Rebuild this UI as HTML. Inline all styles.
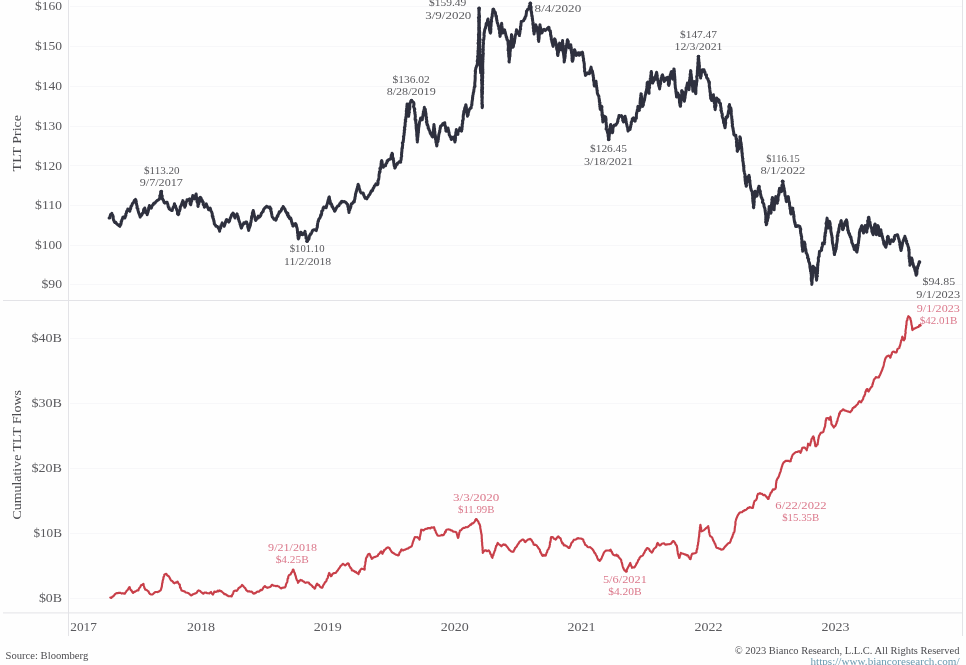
<!DOCTYPE html>
<html lang="en"><head><meta charset="utf-8"><title>TLT Price and Cumulative TLT Flows</title>
<style>html,body{margin:0;padding:0;background:#fefefe;overflow:hidden}svg{display:block}text{font-family:"Liberation Serif", serif}</style></head><body>
<svg width="966" height="665" viewBox="0 0 966 665">
<rect width="966" height="665" fill="#fefefe"/>
<g stroke="#f7f7f9" stroke-width="1" shape-rendering="crispEdges">
<line x1="70" x2="962" y1="6.5" y2="6.5"/>
<line x1="70" x2="962" y1="46.5" y2="46.5"/>
<line x1="70" x2="962" y1="86.5" y2="86.5"/>
<line x1="70" x2="962" y1="126.5" y2="126.5"/>
<line x1="70" x2="962" y1="165.5" y2="165.5"/>
<line x1="70" x2="962" y1="205.5" y2="205.5"/>
<line x1="70" x2="962" y1="245.5" y2="245.5"/>
<line x1="70" x2="962" y1="284.5" y2="284.5"/>
<line x1="70" x2="962" y1="338.5" y2="338.5"/>
<line x1="70" x2="962" y1="403.5" y2="403.5"/>
<line x1="70" x2="962" y1="468.5" y2="468.5"/>
<line x1="70" x2="962" y1="533.5" y2="533.5"/>
<line x1="70" x2="962" y1="598.5" y2="598.5"/>
</g>
<g stroke="#e3e3e7" stroke-width="1" shape-rendering="crispEdges">
<line x1="68.5" x2="68.5" y1="0" y2="636"/>
<line x1="962.5" x2="962.5" y1="0" y2="636"/>
<line x1="3" x2="963" y1="300.5" y2="300.5"/>
</g>
<line x1="3" x2="963" y1="612.9" y2="612.9" stroke="#e3e3e7" stroke-width="1"/>
<g font-size="12" fill="#5a5a5e" text-anchor="end">
<text x="62" y="10" textLength="27" lengthAdjust="spacingAndGlyphs">$160</text>
<text x="62" y="50" textLength="27" lengthAdjust="spacingAndGlyphs">$150</text>
<text x="62" y="90" textLength="27" lengthAdjust="spacingAndGlyphs">$140</text>
<text x="62" y="130" textLength="27" lengthAdjust="spacingAndGlyphs">$130</text>
<text x="62" y="169.5" textLength="27" lengthAdjust="spacingAndGlyphs">$120</text>
<text x="62" y="209" textLength="27" lengthAdjust="spacingAndGlyphs">$110</text>
<text x="62" y="249" textLength="27" lengthAdjust="spacingAndGlyphs">$100</text>
<text x="62" y="288" textLength="20.5" lengthAdjust="spacingAndGlyphs">$90</text>
<text x="62" y="342" textLength="30.6" lengthAdjust="spacingAndGlyphs">$40B</text>
<text x="62" y="407" textLength="30.6" lengthAdjust="spacingAndGlyphs">$30B</text>
<text x="62" y="472" textLength="30.6" lengthAdjust="spacingAndGlyphs">$20B</text>
<text x="62" y="537" textLength="28.6" lengthAdjust="spacingAndGlyphs">$10B</text>
<text x="62" y="602" textLength="23.1" lengthAdjust="spacingAndGlyphs">$0B</text>
</g>
<g font-size="12" fill="#5a5a5e" text-anchor="middle">
<text x="83.6" y="631" textLength="26.6" lengthAdjust="spacingAndGlyphs">2017</text>
<text x="200.9" y="631" textLength="28" lengthAdjust="spacingAndGlyphs">2018</text>
<text x="327.8" y="631" textLength="28" lengthAdjust="spacingAndGlyphs">2019</text>
<text x="454.7" y="631" textLength="28" lengthAdjust="spacingAndGlyphs">2020</text>
<text x="581.6" y="631" textLength="28" lengthAdjust="spacingAndGlyphs">2021</text>
<text x="708.5" y="631" textLength="28" lengthAdjust="spacingAndGlyphs">2022</text>
<text x="835.4" y="631" textLength="28" lengthAdjust="spacingAndGlyphs">2023</text>
</g>
<g font-size="13" fill="#4c4c50" text-anchor="middle">
<text transform="translate(20.5,143.2) rotate(-90)" textLength="56.4" lengthAdjust="spacingAndGlyphs">TLT Price</text>
<text transform="translate(21.3,454.8) rotate(-90)" textLength="129.2" lengthAdjust="spacingAndGlyphs">Cumulative TLT Flows</text>
</g>
<text x="5.5" y="659" font-size="10.5" fill="#4c4c50" textLength="82.7" lengthAdjust="spacingAndGlyphs">Source: Bloomberg</text>
<text x="959.5" y="653.5" font-size="10.5" fill="#4c4c50" text-anchor="end" textLength="224.8" lengthAdjust="spacingAndGlyphs">© 2023 Bianco Research, L.L.C. All Rights Reserved</text>
<text x="959.5" y="664.5" font-size="10.5" fill="#6a9ab0" text-anchor="end" textLength="149" lengthAdjust="spacingAndGlyphs">https://www.biancoresearch.com/</text>
<path d="M109.1,218 L109.81,217.93 L109.91,216.47 L110.51,215.05 L110.73,214.3 L111.46,214.19 L111.9,213.3 L111.99,214.49 L112.38,215.08 L112.72,215.14 L113.27,217.03 L113.1,217.86 L113.4,219.31 L113.55,220.02 L114.02,220.53 L114.1,221.3 L114.95,222.52 L115.84,222.37 L116.6,223.8 L117.54,224.47 L118.43,225.17 L119.11,225.65 L119.9,226.3 L120.02,225.75 L120.42,224.24 L120.78,224.63 L121.2,222.98 L121.14,221.55 L121.63,221.31 L121.78,220.25 L122.51,218.7 L122.39,218.81 L122.9,217.1 L123.84,216.82 L124.8,218 L125.13,217.49 L125.24,216.35 L125.88,215.59 L125.76,214.12 L126.43,213.03 L126.58,211.59 L126.88,211.08 L127.2,210.59 L127.57,210.64 L127.8,208.9 L128.44,210.43 L129.2,210.24 L129.8,211.3 L130.11,208.82 L130.22,209.54 L130.65,208.78 L131.01,206.25 L131.28,206.14 L131.88,205.67 L131.98,204.88 L132.3,203.9 L132.55,203.36 L133.22,203.08 L133.76,201.89 L134.43,200.36 L135.17,201.19 L135.6,199.4 L135.75,200 L135.99,200.64 L136.32,201.89 L136.34,202.4 L136.48,203.62 L136.82,205.41 L137.2,206.28 L136.97,207.52 L137.11,208.12 L137.92,208.73 L137.8,209.7 L138.04,210.52 L138.4,211.64 L138.58,212.49 L139.15,213.99 L139.35,214.21 L139.77,215.61 L140.01,216.39 L140.2,217.1 L140.52,216.14 L141.37,215.19 L141.72,215.18 L142.25,213.51 L142.7,213 L143.32,212.91 L143.49,210.62 L143.71,209.2 L144.3,209.1 L144.7,208 L145.27,209.49 L145.63,210.37 L145.59,210.57 L146.57,212.1 L146.3,212.98 L147.08,213.88 L147.2,214.7 L147.55,213.21 L147.85,212.52 L147.91,212.37 L148.01,212.12 L148.61,209.72 L148.88,208.7 L148.57,208.24 L148.98,207.34 L149.15,206.53 L149.4,205.5 L149.65,206.93 L150.62,206.86 L151.3,208 L151.37,208.18 L151.91,206.17 L152.61,205.17 L153.14,204.95 L153.3,203.9 L154.09,202.95 L154.95,203.3 L155.74,201.84 L156.3,201.4 L157.35,200.27 L157.78,200.23 L158.69,199.67 L159.3,198.9 L159.53,198.93 L159.9,196.85 L159.77,195.65 L160.24,195.66 L160.38,194.89 L160.85,191.76 L161.31,192.51 L161.3,191.5 L161.51,192.71 L161.56,193.67 L161.56,194.32 L161.82,195.49 L162.23,195.88 L162.11,197.55 L162.34,199.08 L162.6,198.9 L163.22,200.2 L163.55,200.7 L164.13,202.41 L164.14,202.5 L164.9,203.1 L166.19,202.24 L167.1,202.2 L167.24,203.26 L167.65,203.76 L168.06,205.45 L168.17,206.58 L168.52,207.53 L169.19,207.78 L169.2,208.9 L169.98,209.47 L170.74,209.85 L171.6,210.5 L172.19,210.53 L172.36,209.24 L172.67,208.6 L173.12,207.45 L173.68,206.42 L173.99,206.52 L174.44,203.67 L174.5,203.9 L174.83,205.29 L175.49,205.89 L175.84,207.55 L176.11,207.98 L176.5,208.9 L176.78,210.32 L177,210.34 L177.45,211.72 L177.47,214.01 L177.98,214 L178.3,214.7 L178.79,213.94 L178.81,213.54 L178.88,211.63 L179.57,210.97 L179.75,209.94 L179.97,209.56 L180.15,208.84 L180.24,206.87 L180.7,206.4 L180.99,205.94 L181.54,204.3 L182.04,203.07 L182.01,202.9 L182.63,201.22 L182.8,200.6 L182.98,200.89 L183.4,202.49 L183.72,203.44 L183.92,204.17 L184.34,206.01 L184.8,206.01 L184.8,207.2 L185.09,205.18 L185.51,205.72 L185.56,204.49 L185.87,203.82 L185.7,202.84 L186.32,201.86 L186.85,201.24 L187,199.8 L188.13,199.75 L189.4,198.9 L189.58,200.11 L189.84,200.95 L190.43,201.32 L189.99,203.16 L190.34,204.22 L190.8,204.7 L190.9,203.66 L191.24,202.59 L191.16,201.79 L191.66,201.06 L191.73,201.12 L191.94,198.59 L192.05,198.69 L192.49,197.02 L192.64,196.5 L192.8,195.6 L193.06,196.08 L193.57,197.07 L194.07,197.89 L194.4,198.9 L194.83,198.22 L194.93,197.2 L195.55,195.34 L195.78,194.99 L196.1,194 L196.22,194.32 L196.27,195.56 L196.31,196.52 L196.91,197.86 L196.88,198.38 L197.13,199.12 L196.97,201.7 L197.57,201.51 L197.5,202.79 L197.61,202.41 L198.03,205 L197.85,205.8 L198.1,206.4 L198.01,205.11 L198.71,203.99 L198.51,203.61 L198.66,203.49 L199.1,202.54 L199.47,201.13 L199.78,200.17 L199.73,199.13 L199.75,197.85 L200.2,197.3 L200.91,197.74 L201.53,199.4 L201.97,201.28 L202.4,200.6 L202.45,201.82 L203.31,202.35 L203.19,203.72 L203.17,204.54 L203.54,204.86 L204.16,205.08 L204.3,207.2 L204.77,206.91 L205.13,205.74 L205.93,204.97 L206.3,203.9 L206.92,205.71 L207.01,206.1 L207.3,206.35 L207.86,208.11 L208.41,208.74 L208.5,209.7 L209.3,209.21 L210.1,208 L210.43,208.85 L210.57,209.39 L210.95,211.06 L211.56,211.68 L211.89,212.68 L212.24,213.74 L212.3,214.7 L212.23,215.87 L212.71,217.2 L212.99,216.35 L212.98,218.43 L213.5,218.92 L213.82,220.94 L214.04,221.75 L213.96,220.62 L214.3,222.9 L214.26,223.85 L215.25,225.02 L215.44,225.02 L215.9,226.3 L216.9,226.18 L217.9,227.1 L218.32,228.1 L218.81,228.59 L219.33,229.99 L219.6,231.2 L219.64,230.45 L220.19,228.56 L220.54,228.17 L220.76,227.95 L220.85,225.66 L221.16,225.98 L221.61,225.35 L221.77,224.11 L222.2,222.9 L222.21,223.7 L223.29,224.49 L223.56,224.96 L224.2,226.3 L224.57,225.31 L225.03,223.94 L225.46,222.52 L225.49,221.7 L225.82,222.25 L226.36,219.65 L226.7,219.6 L227.25,219.93 L228.04,220.88 L228.9,222.1 L229.11,220.56 L229.55,220.99 L229.81,219.63 L230.21,218.4 L230.8,217.1 L231.34,216.03 L231.36,215.17 L232.09,214.34 L232.4,214.14 L233,213 L233.41,213.84 L233.78,214.09 L234.27,215.54 L234.57,216.94 L235,218 L235.4,215.83 L235.68,216.12 L236.05,215.2 L236.79,214.74 L237.1,213.8 L237.26,215.07 L237.74,216.6 L237.83,216.09 L238.08,216.65 L238.56,218.88 L238.3,219.19 L239.07,220.27 L239.1,221.3 L239.67,222.32 L240.07,223.64 L240.06,224.46 L240.95,225.32 L240.58,225.73 L241.31,228.11 L241.6,227.9 L241.87,226.72 L242.45,225.39 L242.6,225.48 L243,224.33 L243.4,224.32 L243.8,222.9 L244.6,223.39 L245.59,222.03 L246.6,222.1 L246.82,222.73 L247.27,224.51 L247.51,224.28 L247.8,225.84 L247.63,226.62 L248.1,228.07 L248.24,228.3 L248.52,229.55 L248.7,230.4 L248.74,228.55 L249.22,228.61 L249.13,227.38 L249.61,227.5 L250.16,225.27 L250.31,225.56 L250.47,224.49 L250.63,222.58 L250.96,222.41 L251.1,221.3 L251.11,220.66 L251.4,219.17 L251.48,218.49 L251.6,216.7 L251.97,216.97 L251.84,216.22 L252.47,214.77 L252.32,213.02 L252.87,212.28 L252.76,212.32 L253.01,211.48 L253.2,210.5 L253.62,211.91 L253.71,212.82 L254.02,213.65 L253.81,214.78 L254.35,215.24 L254.52,216.04 L254.87,216.82 L255.04,217.88 L255.04,218.09 L255.18,219.18 L255.7,220.5 L256.39,219.38 L257.05,217.85 L258.2,218 L258.15,216.79 L258.3,216.1 L259.69,216.9 L260.8,215.3 L261.13,214.04 L261.5,213.08 L262.04,212.61 L262.6,211.62 L263.21,211.49 L263.3,210.3 L264.07,208.76 L264.36,208.45 L265.01,207.67 L266.39,207.01 L266.6,206.2 L268,207.18 L268.54,207.39 L269.9,207 L270.15,208.14 L270.18,209.06 L270.93,208.64 L270.86,211.29 L271.07,211.28 L271.42,211.77 L271.47,213.45 L271.71,214.04 L271.88,215.25 L272.21,216.62 L272.4,217 L272.92,217.61 L273.93,218.99 L274.08,219.36 L275.2,219.45 L275.7,220.3 L276.27,219.49 L276.55,218.4 L276.37,218.1 L277.09,216.76 L277.34,215.81 L277.82,216.2 L278.2,214.5 L278.58,214.11 L279.32,211.71 L279.88,212.25 L280.6,211.2 L281.23,210.55 L281.59,209.07 L282.28,207.97 L282.68,208.41 L283.1,206.5 L283.48,207.16 L284.25,208.23 L284.84,208.9 L285.1,209.59 L285.6,211.2 L286.44,212.74 L286.83,212.61 L287.44,215.04 L287.85,213.26 L288.16,216.59 L288.9,216.1 L289.06,217.44 L289.76,218.65 L290.55,219.06 L290.66,217.93 L291.4,220.3 L291.43,221.45 L291.81,222.22 L292.17,223.94 L292.64,223.66 L292.79,225.81 L293.1,226.1 L293.98,225.42 L294.5,224.16 L295.5,223.6 L295.78,224.89 L296.32,224.85 L296.54,226.84 L296.82,227.19 L297.2,228.6 L297.39,229.87 L297.27,230.02 L297.56,231.6 L297.45,232.81 L298.04,233.79 L297.88,234.74 L297.75,235.65 L298.41,235.85 L297.99,236.13 L298.18,238.42 L298.4,238.9 L298.52,237.63 L298.9,237.91 L299,235.88 L299.6,235.49 L300.16,234.39 L300,233.24 L300.5,232.2 L301.25,232.48 L301.77,234.59 L302.7,234.7 L303.25,233.74 L303.7,233.41 L304.55,232.4 L305,231.4 L305.17,232.28 L305.48,233.54 L305.39,234.79 L305.73,235.68 L305.86,235.27 L306.11,236.12 L305.97,238.27 L306.65,237.95 L306.85,239.33 L306.9,239.67 L307.1,241.3 L307.56,239.07 L308.3,239.7 L308.87,239.14 L309.02,238.66 L309.34,236.32 L309.99,234.78 L309.98,235.51 L310.5,233.9 L310.94,234.09 L311.69,232.57 L312.55,230.48 L313.34,229.98 L313.8,229.8 L315.07,229.71 L316.3,230.6 L316.52,229.4 L316.84,228.39 L316.91,228.14 L317.43,226.8 L317.23,225.55 L317.5,225.42 L317.68,223.17 L317.74,222.92 L317.91,222.31 L318.11,221.13 L318.45,221.19 L318.7,219.4 L319.25,218.82 L319.68,218.15 L320.22,217.35 L320.75,214.77 L321.2,215.3 L321.63,213.67 L321.69,213.58 L321.68,211.15 L322.25,210.96 L322.92,209.93 L322.85,210.02 L323.09,208.3 L323.35,207.79 L323.7,207 L325.08,207.36 L326.2,207.8 L326.47,205.94 L326.44,206.62 L326.84,205.02 L327.29,203.6 L327.56,203.16 L327.55,202.68 L327.77,201.72 L328.3,199.76 L328.49,199.98 L328.71,197.89 L328.76,198.44 L329,197.1 L329.29,196.86 L329.52,198.58 L329.68,199.91 L330.1,200.73 L330.36,202.53 L330.45,203.94 L331.13,203.5 L331.2,204.5 L331.71,204.47 L331.93,206.39 L332.69,206.88 L332.9,207.6 L333.46,208.93 L333.43,208.39 L334.04,209.62 L334.5,211.2 L335.14,210.7 L335.75,209.36 L336.11,208.64 L336.64,207.42 L337,207 L337.99,205.77 L338.91,205.81 L339.4,204.5 L339.83,203.44 L340.7,203.31 L341.05,201.73 L341.9,201.2 L342.68,201.91 L344.28,201.48 L345.2,202 L346.11,202.69 L346.96,203.94 L347.7,204.5 L347.95,205.97 L347.79,206.07 L348.02,207.01 L348.48,208.28 L348.31,209.37 L348.57,209.94 L348.93,210.46 L348.92,211.95 L349,212.5 L348.81,210.95 L349.67,210.34 L349.72,209.74 L350.04,208.84 L350.48,208.1 L350.4,207.15 L350.8,207.12 L351.01,205.84 L351.21,204.56 L351.4,203.7 L352.38,203.43 L353.56,201.53 L354.3,202 L354.38,200.83 L354.52,199.99 L354.8,198.79 L354.93,198.85 L354.93,197.71 L355.13,196.96 L355.37,196.01 L355.45,194.39 L355.79,193.11 L356,192.9 L356.21,191.41 L356.35,191.61 L356.72,189.86 L356.97,188.74 L357.39,188.25 L357.43,186.77 L357.91,186.12 L357.98,184.7 L358.2,184.3 L358.56,185.59 L358.56,185.64 L358.91,185.88 L359.02,187.63 L359.56,189.1 L359.71,189.37 L360.02,190.63 L360.25,191.51 L360.6,192.1 L361.33,193.08 L362.6,192.9 L363.31,193.19 L363.7,195.24 L363.97,195.11 L364.42,196.98 L364.93,197.22 L365.1,198.2 L365.72,198.06 L366.79,198.82 L367.6,197.1 L368.11,196.97 L369,194.94 L369.35,195.08 L370.1,193.8 L370.35,193.11 L371.22,191.01 L371.64,190.68 L372.05,191.07 L372.52,190.49 L372.93,188.99 L373.4,188 L373.96,187.39 L374.39,185.8 L375.37,185.27 L375.27,185.31 L375.9,183.8 L376.41,184.58 L377.5,184.7 L377.97,183.79 L378.05,182.87 L378.08,181.68 L377.8,181.15 L378.65,179.56 L378.7,178.6 L378.66,179.07 L378.89,177.73 L379.1,175.91 L379,175.54 L379.11,174.12 L379.49,173.23 L379.36,171.94 L380.04,171.91 L380,170.6 L380.17,169.19 L379.87,168.41 L380.51,169.04 L380.83,166.19 L381.01,166.45 L381.01,165.55 L381.04,165.03 L381.06,163.46 L381.43,161.79 L381.28,161.64 L381.7,160.6 L382.1,161.76 L382.1,161.82 L382.25,164.41 L382.74,164.74 L382.87,165.48 L383.12,166.65 L383.3,167.3 L383.68,166.56 L384.42,165.78 L385.54,165.65 L385.8,164 L385.95,163.77 L386.82,162.87 L387.1,160.88 L387.69,161.22 L388.3,159.8 L389.41,159.36 L390.5,159 L390.33,158.55 L390.9,157.74 L391.4,155.88 L391.19,155.33 L391.81,154.5 L392.1,153.2 L392.16,153.56 L392.55,154.17 L392.48,156.79 L392.51,156.64 L392.74,157.44 L393.36,158.76 L393.4,160.25 L393.4,160.6 L393.73,161 L393.63,162.08 L393.95,163.82 L394.18,165.72 L394.46,165.12 L394.64,165.59 L394.69,168.02 L394.9,168.1 L395.5,166.98 L395.8,165.82 L396.2,165.31 L396.67,164.33 L397.27,164.24 L397.4,163.1 L398.57,162.63 L399.47,161.6 L400.7,162.3 L400.57,161.52 L400.75,160.39 L401.1,159.79 L401.21,158.35 L401.22,157.38 L401.39,157.05 L401.68,156.16 L401.47,154.56 L401.74,152.98 L401.6,152.45 L401.87,151.86 L401.85,151.06 L401.94,150.34 L401.94,149.36 L402,148.14 L402.45,147.99 L402.4,146.6 L402.57,146.02 L402.72,144.37 L402.33,142.9 L403.1,142.15 L403.23,141.98 L403.25,140.51 L403.36,140.83 L403.49,139.16 L403.72,137.8 L403.42,136.46 L403.53,136.16 L403.88,136.16 L404.16,133.85 L404,133.3 L404.05,133.13 L404.42,132.33 L404.25,130.28 L404.64,129.82 L404.81,129.6 L404.39,127.55 L405.04,125.98 L405.1,126.57 L405.03,125.08 L405.21,124.43 L405.09,123.3 L405.39,121.59 L405.71,121.34 L405.26,119.93 L405.7,119.6 L405.78,117.6 L405.81,118.68 L406.01,116.44 L406.21,116.75 L406.27,115.47 L406.21,113.9 L406.58,113.36 L406.27,111 L406.4,111.49 L406.48,110.29 L406.69,108.92 L406.63,109.23 L406.95,107.84 L406.84,106.31 L407.2,105.03 L406.98,105.77 L407.1,103.9 L407.36,105.95 L407.41,104.8 L407.53,106.9 L407.49,108.09 L407.73,109.29 L407.77,110.67 L408.22,109.2 L407.72,111.84 L408.01,112.15 L408.15,113.95 L408.29,115.03 L408.38,115.87 L408.6,116.3 L408.81,114.7 L408.91,114.29 L408.77,112.56 L409.38,112.34 L408.89,111.81 L409.59,108.91 L409.19,109.88 L409.66,109.3 L409.66,109 L409.88,106.6 L409.78,105.18 L409.88,104.44 L409.85,103.33 L410.2,103.1 L410.7,101.66 L411.05,101.45 L411.5,100.6 L412.62,101.66 L413.5,102.2 L413.95,103.36 L413.78,104.16 L414,104.63 L413.44,106.59 L413.86,107.15 L414.16,107.79 L414.03,107.81 L414.8,109.26 L414.41,109.62 L414.54,111.04 L415.03,112.72 L414.8,113 L414.97,113.93 L415.26,114.72 L415.21,115.82 L415.39,116.69 L415.16,117.71 L415.08,119.75 L415.44,119.75 L415.94,120.1 L415.63,121.74 L415.86,122.01 L415.86,123.45 L416.25,124.03 L416.07,125.47 L416.2,126.3 L416.14,126.53 L416.21,128.55 L416.38,129.43 L416.52,130.21 L416.48,130.68 L416.7,131.8 L416.8,134.09 L417.08,132.97 L416.67,134.55 L416.84,135.6 L416.91,136.6 L417.19,137.37 L417.06,139.24 L417.26,140.1 L417.21,140.81 L417.37,141.19 L417.3,142 L417.41,140.55 L417.65,139.53 L417.7,139.35 L417.57,138.12 L417.73,137.91 L417.91,136.34 L418.01,135.79 L417.93,134.04 L418.15,134.25 L418.15,132.63 L418.48,132.35 L418.22,130.62 L418.51,130.99 L418.62,128.43 L418.8,127.52 L418.7,126.92 L419,126.3 L419.04,125.75 L419.41,123.43 L419.35,123.23 L419.6,121.69 L419.81,121.36 L420.28,120.49 L420.3,120.43 L420.35,119.23 L420.6,118 L421.54,118 L422.3,119.6 L422.34,119.4 L422.49,117.31 L422.85,116.01 L423.14,115.19 L423.08,115.75 L423.08,113.85 L423.39,113.42 L423.38,111.15 L423.6,111.27 L423.88,110.3 L423.98,109.9 L424.33,108.74 L424.3,107.2 L424.57,108.95 L425.37,109.4 L425.18,110.17 L425.6,111.3 L425.51,112.33 L425.73,112.76 L426.07,114.04 L425.97,114.56 L426.05,116.28 L426.57,117.51 L426.16,117.47 L426.31,118.75 L426.57,119.7 L427.01,121.93 L426.36,121.89 L426.8,122.9 L427.1,124.72 L427.58,124.59 L427.66,125.71 L428.15,126.25 L428.16,128.15 L428.8,128.33 L428.9,129.6 L429.27,130.18 L429.74,131.14 L430.23,133.01 L430.76,134.07 L431.1,134.5 L431.63,134.22 L431.89,136.15 L432.7,137 L432.78,136.48 L432.97,134.81 L433.1,134.67 L433.06,132.9 L432.95,133.58 L433.26,131.32 L433.45,131.15 L433.39,129.49 L433.54,129.1 L433.65,127.41 L433.72,126.89 L433.94,125.7 L433.9,124.6 L433.97,125.1 L434.23,126.44 L434.15,127.61 L434.27,127.63 L434.59,128.82 L434.57,130.35 L434.45,130.31 L434.87,131.87 L434.84,132.91 L434.67,133.91 L435.1,134.5 L435.47,136.02 L435.39,136.38 L435.62,137.06 L435.5,137.57 L435.48,139.18 L435.91,140.12 L435.88,140.74 L436,142.6 L436.34,142.62 L436.5,143.42 L436.5,144.32 L436.69,145.2 L436.7,146.1 L437.04,144.82 L436.91,144.82 L437.05,142.51 L437.57,141.97 L437.95,141.52 L437.58,141.43 L437.97,139.43 L438.34,139.61 L438.4,137.8 L438.44,137.35 L438.57,137 L438.77,134.94 L439.14,133.47 L439.39,132.52 L439.46,132.34 L439.81,131.44 L439.61,130.73 L440.12,129.53 L440.09,128.01 L440.43,127.92 L440.5,126.3 L441.47,125.54 L442.25,125.15 L442.7,123.8 L443.86,123.14 L444.7,122.9 L444.77,122.73 L444.9,125.66 L445.18,125.58 L445.6,126.85 L445.56,128.39 L445.91,128.62 L445.9,129.99 L445.89,131.02 L446.3,131.2 L446.5,130.53 L447.02,129.3 L447.85,129.7 L448,127.9 L448.21,129.27 L448.09,128.71 L448.68,130.83 L448.62,131.95 L449.02,132.19 L449.23,134.81 L449.3,134.5 L449.68,135.48 L450.15,136.74 L450.75,136.71 L450.99,138.75 L451.3,139.5 L452.15,138.42 L452.51,138.39 L453.3,137 L453.5,138.56 L454.08,137.99 L454.17,139.45 L454.57,140.49 L454.9,142 L455.03,140.85 L455.38,140.35 L455.31,139.39 L455.46,138.45 L455.49,137.73 L455.39,135.64 L455.6,135.48 L455.68,134.14 L456.05,133.02 L455.77,132.89 L456.08,131.61 L456.37,130.3 L456.3,129.6 L456.63,130.76 L457.1,131.09 L457.31,132.68 L457.83,133.14 L457.9,134.5 L457.96,131.86 L458.26,131.7 L458.67,131.11 L459.08,130.55 L459.42,130.53 L459.59,128.91 L459.9,127.9 L460.46,128.93 L461.04,129.15 L461.32,130.37 L461.6,131.2 L461.74,128.94 L462.03,129.16 L461.97,129.03 L461.97,127.91 L462.31,126.15 L462.14,125.08 L462.18,124.19 L462.58,123.69 L462.67,122.48 L462.51,121.08 L462.86,120.71 L462.48,121.01 L463.23,119.41 L463.34,118.47 L463.22,118.19 L463.17,115.87 L463.24,116.58 L463.42,114.23 L463.61,114.61 L463.7,113 L463.84,111.24 L464.38,111.53 L464.52,111.07 L464.52,109.57 L464.7,108.08 L465.23,107.39 L465.26,106.57 L465.81,105.94 L465.9,104.7 L465.67,106.27 L465.97,105.16 L466.44,107.67 L466.4,108.67 L466.47,109.3 L466.48,109.68 L466.72,112.69 L466.97,112.14 L467,113.22 L467.46,114.14 L467.16,114.17 L467.32,114.86 L467.5,116.3 L467.8,114.68 L468.19,114.78 L468.17,114.18 L468.34,112.63 L468.73,111.62 L468.95,110.92 L469.2,109.7 L470.36,108.27 L471.2,108 L471.1,107.03 L471.56,105.28 L471.68,104.35 L471.78,105.26 L471.91,103.98 L471.97,102.32 L472.16,100.73 L472.21,101.21 L472.28,100.56 L472.66,98.14 L472.45,98.24 L472.62,97.01 L472.8,96.4 L472.75,95.62 L473.05,94.68 L473.21,94.08 L473.27,93.18 L473.52,92.13 L473.78,91.63 L473.8,90.71 L474.03,88.93 L474.14,87.81 L474.16,88.17 L474.51,86.28 L475,86.58 L474.8,84.8 L474.77,83.55 L474.79,83.04 L475.05,80.87 L475.05,81.2 L475.08,80.35 L475.2,78.76 L475.18,78.13 L475.21,76.6 L475.11,76.22 L475.23,74.88 L475.25,74.36 L475.41,72.8 L475.5,71.79 L475.47,71.03 L475.19,71.16 L475.6,69.6 L475.86,67.87 L476.14,67.52 L476.52,66.09 L476.98,65.05 L477.3,64.6 L477.33,63.3 L477.53,62.78 L477.41,61.49 L477.19,61.14 L477.46,60.02 L477.61,59.54 L477.9,57.67 L477.65,56.92 L477.54,56.55 L478.03,55.28 L478.13,53.77 L477.94,53.37 L478.32,51.7 L478.1,52.41 L477.91,50.96 L478.34,49.88 L478.23,48.51 L478.4,48 L478.28,46.99 L478.55,45.28 L478.54,45.76 L478.63,44.78 L478,43.31 L478.4,42.59 L478.59,41.05 L478.33,40.23 L478.48,41.17 L478.65,39.06 L478.56,38.39 L478.57,37.45 L478.56,36.02 L478.73,35.7 L478.39,34.7 L478.74,33.44 L478.75,32.45 L478.88,31.82 L478.73,29.62 L478.83,30.53 L478.7,28.77 L478.82,27.96 L478.67,27.65 L478.86,26.92 L478.74,24.31 L478.7,24.47 L478.82,23.69 L478.8,22.68 L478.76,21.99 L478.59,21.23 L478.81,20.07 L478.95,18.92 L478.41,17.88 L478.91,16.53 L478.88,16.27 L479.08,15.17 L478.82,14.62 L479.16,13.24 L479.08,12.87 L479.07,11.92 L478.89,10.71 L478.93,9.58 L479.19,10.15 L479.1,8.3 L479.1,9.23 L479.25,9.23 L479.31,10.06 L478.93,11.63 L479.02,13.59 L479.17,13.55 L479.28,13.79 L479.19,14.78 L479.49,15.78 L479.49,17.32 L479.3,17.91 L479.29,19.39 L479.48,19.85 L479.32,21.1 L478.89,22.24 L479.42,22.14 L479.31,23.4 L479.31,23.7 L479.31,26.14 L479.36,25.76 L479.31,27.77 L479.47,27.21 L479.47,28.81 L479.28,28.98 L479.53,30.63 L479.72,32.64 L479.67,33.21 L479.63,34.06 L479.48,34.74 L479.77,35.03 L479.48,35.57 L479.62,36.98 L479.53,37.63 L479.5,38.47 L480.17,39.59 L480.04,40.06 L479.69,40.93 L479.78,42.46 L479.52,43.23 L479.66,44 L479.71,44.4 L479.5,46.15 L479.88,46.28 L479.66,47.39 L479.68,48.48 L479.8,49.7 L479.87,50.91 L479.8,52.7 L479.78,52.68 L479.68,53.93 L479.92,53.89 L480.35,56.77 L480.02,57.27 L480.15,56.29 L479.98,58.63 L480.44,60.04 L480.09,58.99 L480.14,60.69 L480.22,61.68 L480.67,62.55 L480.08,63.36 L480.47,65.19 L480.2,64.86 L480.03,65.93 L480.48,66.62 L480.4,67.54 L480.38,69.04 L480.53,70.37 L480.59,71.72 L480.84,71.64 L480.6,72.9 L480.95,71.96 L481.08,70.86 L481.4,69.6 L481.62,70 L481.39,71.01 L481.62,72.8 L481.8,73.24 L481.88,74.02 L481.55,75.79 L481.72,75.82 L481.67,75.93 L481.83,78.14 L481.64,79.44 L481.45,79.84 L481.5,80.79 L481.93,80.65 L481.65,83.27 L482.08,83.38 L481.95,83.38 L481.83,84.85 L482,85.89 L481.74,87.5 L481.94,88.4 L481.63,89.42 L481.82,90.03 L481.59,90.61 L481.85,92.55 L481.64,92.53 L481.93,93.08 L481.73,94.16 L481.87,95.19 L481.77,96.4 L481.8,97.46 L482.07,97.11 L482.08,98.96 L481.98,99.23 L482.23,99.95 L481.87,100.39 L482.17,101.62 L482.24,102.35 L481.84,103.14 L482.21,105.16 L482.38,105.68 L482.1,106.56 L482.2,107.7 L482.43,106.7 L482.53,105.81 L482.41,105.75 L482.46,104.6 L481.87,103.46 L482.24,102.4 L481.97,100.76 L482.11,100.58 L482.16,99.6 L482.15,98.88 L482.31,97.93 L482.29,96.65 L481.91,96.15 L482.37,94.05 L482.4,94.21 L482.21,93.49 L482.51,93.11 L482.36,91.69 L482.31,90.21 L482.43,89.91 L482.47,89.25 L482.63,87.66 L482.23,86.22 L482.38,86.31 L482.23,84.42 L482.71,84.3 L482.48,84.18 L482.37,82.36 L482.5,82.64 L482.65,80.49 L482.54,80.43 L482.34,79.57 L482.66,78.25 L482.68,77.33 L482.68,76.3 L482.47,74.15 L482.42,74.87 L482.94,73.01 L482.67,72.64 L482.92,71.91 L482.51,70.66 L482.89,70.05 L482.65,68.02 L482.7,67.88 L482.74,67.56 L482.7,66.3 L482.69,64.52 L482.74,64.38 L482.72,64.12 L482.78,62.26 L482.94,61.7 L482.63,59.82 L483.03,59.8 L482.95,58.89 L482.95,58.96 L482.95,57.24 L483.07,56.69 L483.13,55.1 L482.96,54.56 L483.4,53.8 L482.91,51.87 L483.08,51.48 L483.14,50.75 L483.35,49.79 L482.85,49.48 L483.22,48.16 L483.25,47.23 L483.23,46.21 L483.27,44.74 L483.33,44.61 L483.55,43.21 L483.23,42.8 L483.4,41.4 L483.48,40 L483.79,39.73 L483.94,37.57 L483.87,37.57 L483.99,37.02 L484.21,35.71 L483.98,35.28 L484.09,32.8 L484.33,32.85 L484.4,31.62 L484.68,30.3 L484.7,29.8 L484.99,28.83 L485.43,28.21 L485.33,28.13 L485.7,26.74 L486.1,25.33 L486.14,23.82 L486.4,23.2 L486.9,22.69 L487.3,22.1 L487.58,20.12 L488,19 L487.84,20.25 L488.33,21.55 L488.44,21.42 L488.37,22.98 L488.34,24.09 L488.79,25.32 L488.94,25.58 L489.28,26.03 L489.25,26.76 L489.4,28.2 L489.42,29.48 L489.69,30.5 L490,31.62 L490.27,32.83 L490.5,33.1 L490.74,31.62 L490.81,31.9 L490.55,29.5 L490.88,29.88 L490.84,28.28 L490.6,27.61 L490.83,25.92 L491.04,26.22 L491.15,23.57 L491.13,23.59 L491.17,22.06 L491.33,22.09 L491.69,21.41 L491.29,19.87 L491.64,18.59 L491.7,18.2 L491.83,17.7 L492.06,16.35 L492.3,16.13 L492.24,14.36 L492.4,13.63 L492.83,12.2 L492.64,11.93 L492.81,11.14 L492.87,9.47 L493.3,9.1 L493.66,9.29 L494.16,10.91 L494.63,11.77 L495.25,12.2 L495.5,13.3 L495.51,13.6 L495.89,16.24 L496.46,16.15 L496.47,16.34 L496.35,17.83 L496.55,18.22 L496.74,20.08 L496.98,20.32 L497.1,21.5 L497.45,23.18 L497.71,23.26 L498.02,24.7 L498.37,26.26 L498.8,26.5 L498.88,27.98 L498.83,28.7 L498.96,29.08 L499.23,29.66 L499.67,30.35 L499.6,32.82 L499.47,32.8 L499.81,32.75 L499.77,33.95 L499.89,35.16 L500,36.4 L500.1,36.37 L500.38,34.4 L500.02,33.28 L500.41,32.2 L500.73,31.25 L500.52,31.39 L500.83,29.82 L500.81,28.62 L500.96,28.15 L501.14,27.96 L501.29,26.03 L501.3,25.2 L501.62,24.46 L501.6,23.2 L501.78,24.21 L501.76,24.24 L501.9,25.94 L502.13,27.39 L502.08,27.68 L502.26,28.38 L502.23,30.4 L502.48,30.9 L502.81,32.18 L502.84,31.72 L502.9,33.1 L503.44,31.5 L503.58,31.37 L504.27,30.59 L504.6,29.8 L504.95,32.07 L505.01,31.88 L504.99,31.38 L505.25,32.25 L505.87,35.02 L505.81,35.57 L506.47,36.74 L506.3,37.3 L506.93,38.21 L506.96,39.69 L507.36,39.84 L507.9,40.6 L507.88,41.71 L508.13,41.95 L508.03,43.36 L508.2,44.81 L508.48,45.95 L508.32,45.52 L508.44,46.17 L508.19,49.13 L508.52,49.67 L508.1,50.15 L508.46,50.3 L508.6,51.85 L508.65,53.19 L508.53,53.58 L508.71,54.2 L508.74,56.78 L509.02,56.44 L509.02,57.86 L509.24,58.41 L509.26,58.97 L509.13,61.08 L509.04,60.87 L509.2,62.1 L508.97,61.29 L509.24,60.9 L509.56,58.56 L509.43,58.32 L509.47,58.05 L509.49,56.06 L509.94,56.38 L510.02,53.68 L509.89,53.18 L509.8,52.46 L510.21,51.71 L510.16,51.47 L510.4,49.7 L510.32,48 L510.69,47.51 L510.72,48.13 L510.51,46.21 L510.58,44.26 L511.04,44.47 L510.71,43.06 L510.98,42.67 L510.82,40.91 L511.4,39.38 L511.27,39.19 L511.44,38.79 L511.35,38.81 L511.31,37.32 L511.52,34.94 L511.6,34.8 L511.45,34.67 L511.9,36.28 L511.6,37.53 L511.9,38.59 L512,39.28 L512.33,40.46 L512.3,41.75 L512.14,41.97 L512.75,44.43 L512.66,43.4 L512.72,45.51 L512.73,46.34 L512.9,47.2 L513.22,47.02 L513.48,45.81 L513.63,44.41 L513.66,44 L514.2,43.12 L514.5,41.4 L514.57,40.65 L514.66,38.61 L514.89,38.95 L514.97,38.09 L515.25,35.96 L515.3,35.81 L515.28,35.94 L515.68,34.32 L515.91,34.09 L516.08,32.67 L516.16,31.7 L516.48,30.6 L516.5,29.8 L516.9,31.85 L517.45,31.6 L518.2,32.3 L518.92,34.45 L519.3,34.63 L519.5,35.6 L519.42,34.78 L519.47,34.7 L520.03,32.2 L520.05,32.32 L519.95,30.69 L520.38,29.31 L520.66,29.32 L520.5,28.33 L520.44,26.84 L520.5,26.48 L520.92,25.83 L520.96,23.63 L521.01,23.52 L521.28,22.25 L521.2,21.5 L522.51,21.22 L523.6,20.7 L523.92,19.89 L524.72,18.01 L524.87,18.57 L525.3,16.6 L525.8,16.23 L526.03,15.5 L526.26,13.64 L526.47,12.46 L526.45,11.26 L527,10.8 L527.54,9.46 L528.6,9.1 L529,8.37 L529.04,7.42 L529.24,6.19 L529.83,5.46 L529.85,5.32 L530.3,3.3 L530.41,4.14 L530.59,6.43 L530.42,6.32 L531.15,6.92 L531.02,8.66 L530.89,8.63 L531.06,9.89 L531.19,11.92 L531.4,11.6 L531.65,12.24 L531.51,13.54 L531.65,13.58 L531.82,16.07 L532.19,16.02 L532.3,17.89 L532.19,18.12 L532.44,18.3 L532.58,19.67 L532.45,19.48 L532.8,21.5 L533.14,22.9 L532.8,23.52 L532.96,24.72 L533.16,25.2 L533.48,26.73 L533.24,27.61 L533.42,28.82 L533.75,28.38 L533.53,31.19 L533.7,30.91 L534.1,31.82 L534.03,33.49 L534.1,34 L534.14,33.18 L534.31,31.88 L534.69,31.57 L534.86,30.13 L535.24,28.94 L534.97,27.9 L535.36,27.52 L535.24,26.79 L535.67,26.04 L535.7,24.8 L535.78,25.04 L536.38,26.82 L537.27,27.91 L537.4,28.2 L537.55,29.85 L537.56,30.56 L537.66,30.56 L537.81,31.74 L537.69,32.28 L537.97,33.91 L538.2,34.83 L538.25,34.95 L538.23,36.55 L538.35,38.22 L538.68,39.06 L538.22,39.49 L538.53,40.18 L538.7,41.4 L538.64,40.6 L538.88,39.63 L539.18,37.58 L538.77,37.39 L539.18,36.36 L538.81,37.58 L539.4,34.58 L539.29,33.65 L539.34,32.86 L539.26,32.34 L539.26,30.71 L539.97,30.46 L539.62,30.04 L539.81,29.2 L539.68,27.4 L539.72,26.72 L540,25.71 L540,24.8 L539.97,25.04 L540.18,26.48 L540.52,27.51 L540.74,28.68 L540.82,29.45 L540.95,30.27 L541.09,31.21 L541.29,32 L541.4,33.1 L542.02,32.72 L542.33,32.31 L542.39,30.29 L543,29.8 L544.05,29.34 L545.2,30.6 L546.17,29.9 L546.8,29 L547.65,28.2 L548.5,27.3 L549.02,27.47 L549.23,29.98 L549.82,30.93 L550.1,30.6 L550.35,31.05 L550.44,32.53 L550.59,32.64 L550.47,34.69 L551.02,35.36 L550.84,36.18 L551.21,36.79 L551.22,38.11 L551.26,38.35 L551.32,39.5 L551.98,40.71 L551.8,41.4 L552.05,42.29 L552.42,43.47 L552.67,44.26 L552.66,44.94 L553.1,46.4 L553.37,45.14 L553.35,44.17 L553.34,43.71 L553.47,42.4 L554.34,41.37 L554.41,39.87 L554.32,39.5 L554.6,38.9 L555.26,39.69 L555.29,40.59 L555.58,41.63 L556.01,43.3 L556.3,43.9 L556.31,44.85 L556.51,45.79 L556.68,46.55 L556.58,47.18 L556.62,48.58 L556.94,49.74 L557.33,49.64 L557.29,50.68 L557.48,51.43 L557.49,53 L557.4,53.59 L557.67,55.22 L557.9,55.5 L557.95,54.47 L558.12,53.72 L558.24,52.43 L558.67,51.79 L558.72,50.11 L558.76,49.82 L558.98,48.45 L558.64,48.27 L559.35,45.97 L559.17,45.64 L559.33,44.18 L559.39,44.08 L559.6,43.1 L559.79,44.73 L560.06,45.44 L560.24,46.02 L560.74,46.56 L560.93,48.42 L560.9,48.39 L561.2,49.7 L561.28,48.87 L561.74,48.21 L561.55,46.66 L561.96,45.23 L561.95,45.24 L562.04,43.87 L562.07,43.16 L562.53,42.7 L562.41,42.18 L562.6,40.6 L562.56,43.2 L562.52,42.48 L562.86,43.25 L562.86,44 L562.88,44.74 L562.94,45.53 L562.95,45.97 L563.13,47.82 L563.05,49.69 L563.43,49.55 L563.3,50.38 L562.92,50.88 L563.62,53.92 L563.55,54.78 L563.7,53.83 L563.75,55.04 L563.87,56.7 L563.87,56.98 L564.14,58.56 L564.3,59.08 L564.12,60.57 L564.18,60.83 L564.2,62.1 L564.17,61.48 L564.5,60.54 L564.46,59.09 L564.83,58.17 L564.88,58.25 L565.09,56.19 L565.24,55.94 L564.85,54.38 L565.36,53.61 L565.51,51.93 L565.59,51.06 L565.67,51.32 L565.9,49.7 L566.21,47.5 L566.19,47.83 L566.03,46.01 L566.39,45.89 L566.59,45.28 L566.7,44.47 L566.83,43.59 L567.16,42.75 L567.2,40.76 L567.35,40.49 L567.5,39.8 L567.59,41.7 L567.91,41.52 L568.3,41.34 L568.23,43.76 L568.87,44.85 L568.85,44.82 L568.69,47.11 L568.8,47.34 L569.2,48 L569.49,47.32 L569.94,46.66 L570.6,46.2 L570.8,44.7 L570.88,46.55 L570.94,46.37 L571.07,47.13 L571.13,47.84 L571.43,49.75 L571.11,50.46 L571.76,51.98 L571.49,52.55 L571.64,53.35 L571.93,53.07 L571.92,55.32 L571.94,56.15 L572.27,56.04 L572.07,57.44 L571.95,58.8 L572.41,59.34 L572.02,60.25 L572.5,61.3 L572.8,60.5 L573.18,58.8 L572.97,58.72 L573.28,57.98 L573.26,56.99 L573.23,56.14 L573.31,56.15 L573.61,54.08 L573.87,53.34 L574.03,52.94 L574.53,51.34 L574.35,50.05 L574.5,49.7 L574.93,50.47 L575.23,51.64 L575.35,52.2 L575.57,53.88 L575.58,54.7 L576.1,55.5 L576.62,54.94 L577.08,54.86 L577.8,53 L578.87,52.76 L579.23,55.19 L580,54.7 L580.68,52.82 L581.67,53.2 L582.4,52.2 L582.73,53.65 L582.65,54.37 L583.08,55.68 L582.9,56.05 L583.13,57.18 L583.26,57.65 L583.63,59.21 L583.59,60.04 L583.4,60.21 L583.8,61.3 L583.99,62.13 L584.08,62.72 L584.16,63.69 L584.3,63.59 L584.34,66.4 L584.28,67.32 L584.48,67.93 L584.65,68.86 L584.64,69.85 L584.58,70.46 L584.56,71.51 L585.4,72.76 L585.12,73.26 L585.36,74.51 L585.4,75.4 L585.98,74.97 L586.8,73.57 L587.4,72.9 L588.2,73.53 L589.4,73.7 L589.92,73.03 L589.82,70.86 L589.96,70.71 L590.65,69.21 L590.68,69.09 L590.66,68.57 L591.1,67.1 L591.26,68.74 L591.63,69.62 L591.99,70.75 L592.33,70.96 L592.54,71.6 L592.7,72.9 L592.8,73.1 L593.09,75.84 L593.28,75.21 L593.25,76.51 L593.41,77.43 L593.66,78.28 L593.45,79.34 L593.45,80.23 L593.98,81.77 L594,83.09 L594.25,83.2 L594.06,85.01 L594.2,84.49 L594.4,86.1 L594.91,85.13 L595.1,84.74 L595.32,83.8 L595.32,82.14 L596,81.2 L596.07,81.9 L596.2,83.79 L596.35,83.92 L596.12,84.89 L596.52,85.69 L596.55,86.9 L596.86,87.73 L596.83,88.15 L596.94,89.59 L597.2,90.9 L597.16,90.42 L597.3,92.8 L597.37,93.17 L598,94.86 L598.29,95.36 L598.89,96.28 L599,97.7 L599.29,99.55 L599.32,98.9 L599.32,100.64 L599.36,101.29 L599.39,101.97 L599.99,102.77 L599.59,104.41 L599.89,104.68 L600.18,106.93 L599.79,106.35 L600.15,107.44 L600.11,108.4 L600.3,109.6 L600.53,109.63 L601.14,107.77 L601.6,106.3 L601.99,106.91 L601.8,107.46 L601.72,108.99 L601.92,109.77 L602.07,112.34 L601.83,111.71 L602.27,112.89 L601.96,115.23 L602,113.83 L602.56,114.7 L602.33,116.41 L602.5,117.46 L602.79,118.23 L602.61,119.7 L602.91,120.83 L602.75,120.94 L602.9,122 L602.95,120.83 L603.49,118.92 L603.11,119.85 L603.54,117.97 L603.97,116.95 L604.1,116.2 L605.7,117 L605.85,118.55 L606.02,119.3 L606.1,120.01 L605.87,121.31 L605.98,122.18 L606.31,123.29 L606.28,122.93 L606.17,124.11 L606.41,125.33 L606.39,126.91 L606.55,126.37 L606.1,129.08 L606.6,129.4 L606.83,129.93 L607.21,131.24 L607.51,132.51 L607.9,132.8 L607.7,133.26 L608.09,133.67 L608.08,135.98 L608.29,136.92 L608.69,137.99 L608.43,138.71 L608.7,139.4 L608.82,139.05 L608.94,137.59 L609.16,137.01 L609.26,135 L609.36,134.93 L609.37,133.81 L609.54,133.48 L609.65,131.86 L609.5,131.1 L609.48,129.89 L609.63,128.78 L610.18,129.05 L610.15,126.33 L610.39,126.53 L610.42,125.16 L610.7,124.5 L610.88,125.89 L611.12,125.86 L611.23,126.91 L611.42,128.62 L611.41,130.5 L612.09,129.5 L612,131.07 L612.18,132.41 L612.4,132.8 L612.81,131.32 L612.75,130.95 L612.87,130.03 L612.87,128.51 L613.33,127.11 L613.31,127.11 L613.5,126.1 L614.38,124.9 L615.7,125.3 L616.29,124.25 L616.75,123.54 L617.3,122.8 L617.64,121.39 L617.94,121.11 L617.77,120.32 L618.12,118.76 L618.37,118.8 L618.81,117.25 L618.89,116.81 L619,115.4 L620.6,116.2 L621.42,115.64 L622.3,117 L622.65,119.09 L623.08,119.7 L622.7,120.44 L623.23,121.2 L623.5,122 L623.94,120.56 L624.24,119.67 L624.22,119.35 L624.87,117.67 L624.89,117.06 L625.1,116.2 L625.15,117.11 L625.45,117.87 L625.55,118.04 L625.91,119.4 L625.84,120.89 L626.25,121.4 L626.14,122.21 L626.61,124.05 L626.8,124.5 L626.91,125.26 L627.1,126.57 L627.54,127.35 L627.82,129.04 L627.72,128.67 L627.74,129.46 L628.1,131.1 L629.03,129.49 L630.1,129.4 L630.12,128.24 L630.54,127.52 L630.5,126.39 L630.77,126.18 L630.81,124.97 L631.3,124.24 L631.17,122.45 L631.62,121.88 L631.7,121.2 L632.31,120.76 L632.23,119 L632.98,118.16 L633.4,117.8 L633.6,118.89 L634.19,119.47 L634.53,120.59 L635.1,121.2 L635.24,120.16 L635.5,119.46 L635.73,118.6 L635.74,117.9 L636.33,118.38 L636.41,114.82 L636.37,114.37 L636.7,113.7 L636.48,113.43 L637.11,111.42 L637.33,110.01 L637.35,109.75 L637.53,109.88 L637.9,108.71 L637.77,106.92 L638,106.3 L638.45,108.07 L639.09,109.18 L639.04,108.89 L639.4,110.4 L639.27,109.73 L639.33,108.03 L639.68,107.48 L640.18,107.62 L639.82,105.7 L640,105.02 L640.26,103.91 L640.02,103.67 L640.2,100.86 L640.55,101.98 L640.28,100 L640.36,99.37 L640.46,97.9 L640.89,98.5 L640.88,96.74 L640.72,95.36 L640.99,95.11 L641,93.8 L641.33,93.98 L641.14,94.39 L641.6,97.14 L641.44,98.94 L641.68,98.19 L641.55,99.21 L641.79,99.89 L641.93,101.48 L642.09,101.9 L642.39,102.56 L642.42,103.37 L642.43,105.2 L642.5,106.02 L642.7,106.3 L642.74,105.51 L643.43,104.92 L643.24,103.39 L643.77,102.26 L643.65,102.16 L644.3,100.5 L644.52,99.73 L644.81,97.84 L645,96.78 L644.95,97.36 L645.14,95.31 L645.58,94.72 L645.63,94.42 L645.72,93.45 L645.81,92.16 L646.3,91.3 L646.22,91.17 L646.84,88.99 L646.52,89.11 L647.27,88.17 L646.8,86.91 L647.37,85.51 L647.08,84.64 L647.06,85.41 L647.19,82.66 L647.6,82.2 L647.62,82.71 L647.56,84.26 L647.8,85.27 L647.9,86.59 L647.78,86.7 L648.29,86.59 L648.02,89.63 L648.37,89.24 L648.61,90.32 L648.72,91.54 L648.44,90.68 L648.8,93 L649.1,93.23 L648.91,90.12 L648.96,90.34 L648.94,88.87 L649.63,87.57 L649.38,87.26 L649.37,86.57 L649.58,85.45 L649.54,84.66 L649.99,83.23 L649.75,82.66 L650,81.4 L650.21,79.4 L650.14,79.81 L650.34,78.14 L650.58,77.93 L650.66,77.15 L650.77,75.63 L650.76,75.06 L651.37,74.29 L651.02,72.98 L651.15,72.44 L651.3,71.5 L651.49,72.36 L651.61,72.91 L651.53,74.96 L651.49,76.48 L651.86,76.58 L651.82,77.47 L652.11,77.49 L652.31,78.24 L652.3,80.62 L652.43,81.56 L652.49,82.27 L652.6,83.1 L653.07,81.9 L653.5,81.43 L653.9,80.6 L654.6,79.8 L654.83,79.08 L655.05,76.73 L655.33,76.41 L655.46,76.97 L655.68,75.22 L656.22,73.96 L656.34,73.46 L656.6,72.3 L656.91,73.71 L656.56,75.24 L656.79,74.15 L657.28,75.47 L657.17,76.84 L657.23,77.53 L657.58,79.1 L657.37,79.44 L657.56,80.05 L658.04,80.98 L658.17,81.73 L658.2,83.1 L658.74,83.54 L658.58,84.94 L659.04,86.42 L658.94,86.41 L659.46,87.29 L659.6,88.9 L659.65,87.64 L659.72,87.27 L660.07,86.41 L659.98,84.93 L659.99,85.03 L660.69,83.6 L660.34,82.31 L660.66,82.04 L660.88,80.3 L661.16,79.81 L660.92,79.39 L661.2,78.1 L661.7,77.37 L661.89,75.78 L662.5,74.8 L662.78,76.15 L662.96,76.21 L663.38,77.78 L663.69,79.45 L663.88,79.25 L663.93,79.86 L664.2,81.4 L664.58,80.86 L665.05,79.43 L665.57,79.72 L665.9,78.1 L667.5,77.3 L667.88,77.75 L667.79,78.97 L667.95,80.15 L668,80.45 L668.36,81.74 L668.5,81.77 L668.32,84.47 L668.57,84.58 L668.8,85.5 L669.15,83.9 L669.3,83.97 L669.37,83.61 L669.43,81.91 L669.41,81.3 L669.47,80.52 L669.77,79.2 L669.86,78.87 L669.97,77.03 L670.07,77.74 L669.98,76.12 L670.3,74.8 L670.77,73.91 L671.11,72.26 L671.5,71.5 L671.78,72.35 L671.58,73.45 L672.37,74.63 L671.97,74.42 L672.15,75.83 L672.51,76.48 L672.8,79.17 L672.8,78.9 L672.96,77.9 L673.14,77.53 L672.97,76.06 L673.59,74.72 L673.45,74.8 L673.39,73.96 L673.64,72.38 L673.59,70.97 L673.79,70.94 L673.85,68.99 L674.1,69 L674.12,70.11 L674.51,71.57 L674.41,71.32 L674.24,72.62 L674.58,74.01 L674.22,73.54 L674.68,76.05 L674.76,76.84 L674.53,76.89 L674.84,77.71 L674.51,79.55 L674.94,79.12 L674.99,80.36 L674.83,81.28 L675.1,82.13 L675,83.97 L675.11,84.36 L675.23,85.65 L675.3,86.4 L675.31,87.44 L675.5,88.32 L675.67,89.24 L675.84,89.62 L675.87,91.95 L676.15,91.33 L676.09,93.11 L676.51,94.25 L676.3,94.61 L676.52,95.95 L676.5,97.1 L676.99,96.53 L677.22,95.24 L677.57,94.27 L677.8,93 L677.99,94.29 L678.4,96.32 L678.61,94.55 L678.66,97.15 L679.1,98 L679.25,98.91 L679.45,99.49 L679.76,99.98 L679.41,100.73 L679.5,102.74 L680.09,104.05 L679.85,104.87 L680.1,105.62 L680.4,106.3 L680.63,105.83 L680.46,103.59 L680.93,102.72 L680.56,103.24 L680.34,101.6 L681.01,101.15 L681.08,99.26 L680.95,98.6 L681.22,97.84 L681.34,97.61 L681.48,95.9 L681.47,95.37 L681.72,94.49 L681.82,93.36 L681.66,92.35 L681.61,90.79 L681.9,90.5 L682.2,92.8 L683.1,92.2 L683.28,93.17 L683.19,93.61 L683.37,95.54 L683.6,95.88 L683.77,96.39 L683.94,97.75 L683.95,99.09 L683.87,99.76 L684.14,100.56 L684.4,101.3 L684.35,100.48 L684.56,100.28 L684.55,99.71 L685.04,97.41 L685.06,97.88 L685.12,95.7 L685.04,94.11 L685.22,95.67 L685.68,93.05 L685.71,92.68 L686.07,91.45 L685.98,91.86 L686.1,89.7 L686.02,88.11 L686.67,87.67 L686.62,87.1 L686.89,86.2 L687.13,85.09 L687.23,84.36 L687.4,83.1 L687.68,83.59 L687.92,84.37 L687.88,85.74 L688.24,88.17 L688.42,88.35 L688.95,88.78 L689,89.7 L689.09,88.13 L689.07,88.64 L689.21,87.26 L689.22,85.79 L689.41,85.2 L689.56,84 L689.61,83.26 L689.67,82.83 L689.54,81.42 L689.45,80.39 L689.89,78.96 L690.12,78.95 L689.76,77.87 L690.22,77.19 L690.26,75.47 L690.08,74.32 L690.45,74.24 L690.53,73.73 L690.6,72.23 L690.48,71.76 L690.7,70.6 L690.93,71.5 L690.74,72.98 L690.92,73.4 L691.25,74.48 L691.22,74.81 L691.36,76.07 L691.44,77.19 L691.64,77.82 L691.24,77.08 L691.62,79.04 L691.85,80.3 L691.9,81.4 L691.85,81.98 L691.96,82.9 L692.34,84.22 L692.41,85.25 L692.37,86.25 L692.28,85.78 L692.68,87.3 L692.75,88.83 L692.72,90.06 L692.94,90.33 L693,91.3 L693.03,90.33 L693.24,88.58 L693.05,88.95 L693.57,87.69 L693.69,87.15 L693.8,85.7 L693.95,85.41 L693.99,83.84 L694,83.3 L694.29,81.88 L694.3,81.4 L694.55,81.75 L694.49,82.56 L694.55,84.23 L694.69,85.87 L694.73,86.18 L694.99,86.19 L695.25,87.79 L695.02,89.5 L695.23,89.14 L695.32,91.31 L695.44,92.78 L695.66,92.58 L695.7,93.8 L695.94,92.87 L695.68,91.85 L695.93,91.31 L695.95,90.41 L695.84,90.3 L695.96,87.78 L695.94,88.13 L695.99,86.39 L696.27,86.06 L696.54,84.02 L696.31,83.67 L696.53,83.17 L696.69,82.22 L697,80.51 L696.73,81.24 L696.99,78.29 L697.06,78.16 L696.8,77.5 L696.67,76.38 L697.32,75.24 L697.32,75.98 L697.26,73.49 L697.3,73.1 L697.35,72.42 L697.39,69.9 L697.59,70.04 L697.63,68.65 L698.03,68.4 L697.55,68.43 L697.74,66.11 L697.99,65.81 L697.93,64.37 L697.96,63.85 L697.77,63.34 L698.03,62.16 L698.28,61.13 L698.07,58.97 L698.54,58.7 L698.43,59.23 L698.53,57.12 L698.5,56.6 L698.31,56.98 L698.59,59 L698.73,58.82 L698.88,61.03 L698.52,61.26 L699.18,62.42 L698.94,63.3 L699.3,64.04 L698.92,64.63 L699.5,65.83 L699.27,68.29 L699.29,68.17 L699.34,68.66 L699.6,69.8 L699.7,70.21 L699.81,72.56 L699.92,72.43 L700.34,73 L700.34,75.37 L700.29,75.12 L700.43,75.29 L700.55,77.79 L700.6,78.1 L700.62,76.96 L701.19,76.05 L701.14,75.07 L701.15,75.25 L701.47,72.28 L701.7,72.46 L701.83,72.41 L702.14,70.79 L702.3,69.8 L704,69.8 L704.16,70.81 L704.82,72.35 L704.86,71.83 L705.17,73.32 L705.6,74.8 L706.48,74.82 L706.43,76.64 L706.86,78.2 L707.3,78.1 L707.99,78.91 L707.91,79.29 L708.4,80.9 L708.9,81.4 L708.81,82.62 L709.42,82.2 L709.32,84.84 L709.28,85.23 L709.28,86.48 L709.49,86.54 L709.55,87.95 L709.76,88.33 L709.82,89.42 L709.96,90.62 L709.91,91.13 L710.29,92.87 L710.39,92.53 L710.38,95.17 L710.34,95.48 L710.6,96.3 L710.65,98.45 L711.14,99.16 L711.48,99.78 L711.7,100.5 L712.21,99.66 L712.41,98.23 L712.48,97.62 L712.86,97.03 L713.02,95.42 L713.4,94.7 L713.42,96.24 L713.55,95.94 L713.81,98.22 L713.69,97.68 L714.23,98.78 L714.17,99.45 L714.15,101.94 L714.21,102.46 L714.36,103.18 L714.69,103.33 L714.81,105.1 L714.56,106 L714.64,107.37 L714.97,107.27 L715.27,109.17 L715.1,109.6 L715.12,108.86 L715.38,108.11 L715.57,106.52 L715.48,106.89 L716.02,105.71 L715.74,105.6 L715.96,102.56 L716.03,102.75 L716.21,102.02 L716.43,100.44 L716.2,99.53 L716.69,98.94 L716.7,98 L717.54,99.8 L718.4,99.6 L719.1,100.31 L719.03,101.08 L719.5,102.91 L720,102.9 L720.51,103.58 L720.53,104.11 L720.47,105.06 L720.81,106.73 L720.75,106.97 L721.13,108.43 L721.18,108.65 L720.86,110.26 L721.37,110.34 L721.61,112.3 L721.7,112.9 L722.06,113.31 L722.35,114.95 L722.12,115.7 L722.44,117.12 L722.61,117.63 L723.22,119.17 L723.3,119.5 L723.37,120.22 L723.53,121.49 L723.6,122.96 L724.19,122.33 L724.35,124.12 L724.38,125.18 L724.38,125.58 L724.82,126.46 L725,127.8 L725.13,127.44 L725.29,125.5 L725.4,125.23 L725.46,124.23 L725.75,122.72 L725.4,122.88 L725.44,121.17 L725.64,120.08 L725.68,119.45 L726.03,118.65 L726.18,117.18 L726.1,117 L727.02,117.53 L727.8,116.2 L727.69,115.56 L727.99,114.25 L728.27,113.34 L728.32,112.03 L728.73,110.47 L728.75,109.89 L728.82,109.8 L728.96,108.64 L728.97,107.93 L728.78,106.34 L729.43,107.15 L729.42,105.3 L729.5,104.6 L729.39,105.79 L729.85,106.45 L730.21,108.17 L730.82,107.98 L731.1,109.6 L731.31,111.35 L731.02,112.62 L731.26,113.01 L731.22,113.39 L731.37,114.52 L731.57,115.59 L731.7,116.13 L731.68,116.24 L731.68,116.88 L731.83,119.07 L732.12,119.67 L731.99,120.96 L732.37,121.57 L732.1,122.8 L732.33,123.62 L732.55,124.39 L732.26,125.7 L732.49,126.77 L732.86,127.35 L732.96,128.86 L733.15,128.8 L733.18,129.82 L733.34,130.58 L733.7,132.39 L733.77,132.97 L733.71,133.02 L733.8,134.4 L734.76,135.45 L735.8,135.2 L735.83,136.44 L735.94,136.61 L736.01,137.96 L736.55,138.88 L736.2,139.1 L736.72,139.84 L736.39,142.13 L736.52,142.11 L736.65,142.98 L736.63,143.7 L736.6,145.68 L736.63,146.28 L737.15,146.93 L737.2,147.48 L737.29,149.66 L737.14,150.88 L737.36,150.6 L737.4,151.4 L737.86,149.51 L738.05,149.14 L738.61,149.07 L739,148.1 L739.03,147.77 L739.25,145.7 L739.37,144.89 L739.48,144.86 L739.58,143.63 L739.7,141.97 L739.55,142.57 L739.66,141.04 L739.83,139.8 L740.13,138.92 L739.85,136.83 L740.2,137.3 L740.35,138.56 L740.52,138.26 L740.49,140.24 L740.73,142.22 L740.96,142.29 L741.07,142.76 L740.92,143.47 L741.35,144.22 L741.19,146.41 L741.5,146.4 L741.69,148.33 L741.78,148.47 L741.79,148.43 L741.83,149.87 L741.9,151.98 L741.74,150.87 L742.11,153.65 L742.29,153.13 L742.25,154.77 L742.2,155.52 L742.41,156.41 L742.61,158.23 L742.92,158.19 L742.68,160.14 L742.75,160.74 L742.9,161.3 L743.14,161.9 L743.18,162.99 L743.35,163.4 L743.37,165.39 L743.94,165.73 L743.58,166.66 L743.9,167.52 L743.75,168.51 L743.89,170.09 L743.89,170.94 L744.07,170.8 L744.32,172.32 L744.5,172.9 L744.53,173.25 L744.95,174.64 L745.1,175.87 L745.19,177.24 L744.8,176.7 L745.04,178.02 L745.17,178.8 L745.1,179.79 L745.41,182.15 L745.73,182.61 L745.49,183.6 L746.25,184.7 L746.08,185.83 L746.2,186.2 L746.68,185.31 L746.55,184.76 L746.38,183.85 L746.53,182.92 L746.89,181.99 L746.8,180.25 L747.05,180.45 L747.27,178.14 L747.3,177.9 L747.97,176.71 L748.59,176.08 L749,175.4 L749.08,176.87 L749.1,177.62 L749.53,177.14 L749.35,179.04 L749.9,180.94 L750,180.76 L749.76,182.48 L750.04,182.88 L750.02,183.99 L750.2,184.85 L750.56,186.46 L750.52,186.83 L750.6,187.8 L751.03,189.08 L751.27,190.18 L751.71,191 L752.06,191.47 L752.3,192.8 L752.28,193.22 L752.34,193.86 L752.51,195.5 L752.81,197.04 L752.7,197.08 L752.65,198.99 L752.84,198.67 L752.82,200.99 L752.78,201.09 L753.05,201.54 L753.02,202 L753.24,203.74 L753.63,204.61 L753.55,205.87 L753.77,207.16 L753.6,207.7 L753.34,206.81 L753.54,205.18 L754.08,205.04 L753.95,203.19 L753.96,203.38 L754.05,202.96 L754.3,201.73 L753.9,199.71 L754.13,199.72 L754.31,198.59 L754.46,197.89 L754.56,196.54 L754.63,195.93 L754.54,195.28 L754.83,193.49 L754.75,192.72 L754.91,191.81 L755.1,191.2 L755.6,192.57 L755.68,193.06 L755.89,194.26 L756.46,195.33 L756.8,196.1 L756.9,194 L757.28,195.35 L757.21,192.99 L757.62,191.81 L757.75,191.7 L758,190.56 L758.18,190.12 L758.23,188.25 L758.75,188.28 L758.64,187.7 L758.9,186.2 L759.36,186.5 L759.18,188.59 L759.67,189.84 L759.63,189.56 L759.81,191.02 L760.37,191.37 L760.07,192.14 L760.36,192.88 L760.6,194.5 L760.83,194.96 L761.06,196.49 L761.36,197.59 L761.81,198.02 L762.2,199.4 L762.85,200.27 L762.45,202.17 L763.29,203.48 L763.37,203.27 L763.9,204.4 L763.97,206.28 L764,206.14 L764.08,206.48 L764.53,207.57 L764.99,209.04 L765.08,210.67 L765.39,210.84 L765.17,211.83 L765.5,212.7 L765.48,214.1 L765.95,215.56 L765.84,215.24 L765.85,217.06 L765.78,217.93 L766,217.72 L765.7,219.32 L765.9,220.16 L765.6,222.13 L766.14,222.79 L766.24,223.5 L766.49,223.29 L766.3,224.8 L766.81,223.38 L766.39,222.44 L766.8,221.81 L767.38,221.05 L767.7,219.29 L767.63,218.94 L768,218.1 L768.3,217.57 L767.96,216.24 L768.37,215.89 L768.28,213.61 L768.65,213.29 L768.61,211.64 L768.93,212.44 L768.97,209.97 L768.91,209.12 L769.02,208.93 L769.19,208.18 L769.1,206.5 L769.34,207.88 L769.57,207.95 L769.86,210.11 L769.92,210.1 L770.4,210.7 L770.62,211.65 L770.8,213.2 L771.16,212.23 L770.78,211.51 L771.12,210.67 L771.23,209.28 L771.59,208.44 L771.45,208.05 L771.61,206.05 L771.45,206.61 L771.46,204.35 L771.82,203.56 L771.69,202.73 L771.95,202.87 L772.01,200.91 L772.16,199.97 L771.85,199.42 L772.26,198.92 L772.4,197.4 L772.63,197.89 L772.68,199.75 L772.6,200.37 L773.06,200.39 L773.15,202.33 L773.28,202.8 L773.14,205.31 L773.4,204.49 L773.95,206.94 L773.94,206.71 L773.82,207.77 L773.95,208.39 L774.1,209.8 L774.24,207.57 L774.04,207.86 L774.28,206.98 L774.37,205.84 L774.41,205.46 L774.85,203.74 L774.8,203.57 L775.12,202.03 L775.02,202.3 L775.3,200.64 L775.56,199.13 L775.47,199.11 L775.72,197.03 L775.7,196.6 L776.14,197.61 L776.07,197.32 L776.51,198.96 L776.67,200.44 L776.74,201.75 L777.1,201.81 L777.4,203.2 L777.2,202.58 L777.49,201.87 L777.97,200.52 L778.12,199.79 L777.92,198.46 L778.07,198.11 L778.12,196.76 L778.23,196.56 L778.49,194.56 L778.85,194.87 L779.06,192.59 L778.9,191.73 L779.01,191.14 L779.19,190.25 L779.63,188.55 L779.5,188.3 L779.9,188.78 L780.55,190.53 L780.97,191.68 L781.5,191.6 L781.8,190.98 L781.49,190.01 L781.83,187.88 L782.03,187.71 L781.87,186.54 L781.85,185.79 L782.09,185.01 L782.83,184.11 L782.78,182.25 L782.8,181.62 L782.7,181.2 L783.05,181.58 L782.81,182.62 L783.24,184.68 L783.25,185.51 L783.56,185.67 L783.67,186.82 L783.9,187.83 L784.13,188.19 L784.26,189.1 L784.19,189.99 L784.66,191.35 L784.86,192.7 L784.8,193.3 L784.98,195.02 L785.36,196.29 L785.47,196.27 L785.87,196.74 L785.72,198.06 L785.92,198.78 L786.1,199.73 L786.22,201.18 L786.5,201.6 L786.99,200.79 L787.3,199.9 L787.47,198.41 L787.65,197.89 L788.2,196.6 L788.49,197.19 L788.39,198.34 L788.64,198.68 L788.74,200.37 L789.15,201.26 L789.17,202.26 L789.54,202.97 L789.52,203.37 L789.46,204.37 L789.67,205.85 L789.8,206.5 L790.14,206.51 L789.94,208.62 L790.34,209.34 L790.71,210.73 L790.46,210.89 L790.74,211.7 L790.58,213.07 L791.1,214 L791.18,213.19 L791.78,211.95 L791.91,210.63 L792.14,209.29 L792.62,208.58 L792.8,208.2 L792.7,208.12 L792.82,210.12 L793.16,211.52 L793.31,211.87 L793.43,211.98 L793.37,214.18 L793.48,213.62 L793.75,214.62 L794.04,216.63 L793.7,216.75 L794,218.1 L793.97,218.13 L794.37,220.95 L794.39,220.6 L794.53,222.01 L795.1,222.6 L794.86,223.71 L795.29,224.04 L795.46,225.33 L795.6,226.4 L796.76,226.48 L797.8,225.6 L798.62,225.91 L799.8,226.4 L799.95,227.15 L800.07,228.55 L800.57,228.57 L800.75,229.6 L800.4,230.85 L800.58,231.7 L800.68,233.26 L800.66,233.15 L801.16,234.32 L801.09,235.19 L801.4,236.3 L801.62,236.34 L801.66,238.23 L801.51,238.48 L801.74,239.8 L802,240.09 L801.78,241.93 L801.77,242.56 L801.99,244.28 L802.02,244.17 L802.01,245.95 L802.46,246.66 L802.29,247.22 L802.81,249.22 L802.43,249.51 L802.7,250.17 L802.7,251.3 L802.87,250.84 L803.25,250.24 L803.19,248.48 L803.47,247.55 L803.44,246.04 L803.69,245.51 L803.8,244.66 L803.85,243.24 L804.01,242.87 L804.4,242.1 L804.78,243.38 L805.1,244.44 L804.83,245.07 L804.86,244.72 L805.21,246.7 L805.16,247.05 L805.42,248.87 L805.64,248.92 L805.92,250.26 L806,251.3 L806.13,252.79 L806.73,253.51 L806.91,253.95 L807.17,254.81 L807.79,256.52 L807.48,257.6 L808,257.9 L808.1,258.82 L808.69,259.25 L808.45,260.22 L808.77,261.69 L808.97,261.98 L809.51,263.17 L809.7,264.5 L809.77,264.25 L809.9,266.07 L809.88,266.76 L810.03,267.68 L810.51,269.99 L810.45,271.06 L810.66,270.9 L810.81,271.78 L811,272.8 L811.06,273.92 L811.39,274.08 L811.29,275.87 L811.55,277.05 L811.29,277.53 L811.25,278.02 L811.22,278.78 L811.36,280.26 L811.45,281.02 L812.11,282.56 L811.81,283.45 L811.8,284.4 L811.95,283.33 L811.81,283.13 L812.08,281.28 L811.96,281.19 L812.17,279.27 L812.06,278.89 L812.32,278.82 L812.47,276.78 L812.36,276.52 L812.69,275.64 L812.34,273.91 L812.58,273.51 L812.51,272.32 L812.7,270.96 L812.7,270.77 L812.83,270.57 L812.94,269.7 L813.08,267.07 L812.7,267.33 L813,266.2 L813.71,267.21 L814.7,267.8 L814.94,269.19 L815.2,269.41 L815.57,271.11 L815.27,272.47 L815.26,272.12 L815.71,273.37 L815.72,274.15 L816.19,276.02 L815.92,275.65 L815.96,277.08 L816.42,277.39 L816.44,279.49 L816.6,280.2 L816.75,278.64 L816.73,277.76 L816.58,277.4 L816.69,276.79 L817.41,276.18 L816.73,274.42 L817.48,273.24 L817.25,273.08 L817.33,272.62 L817.61,270.32 L817.63,271.05 L817.54,269.67 L817.67,267.35 L817.65,267.1 L817.69,266.2 L817.57,264.49 L817.94,265.14 L817.92,263.48 L818,262.8 L818.45,261.02 L818.45,261.24 L818.4,259.13 L818.36,259.29 L818.29,258.12 L818.61,257.06 L819.21,256.34 L819.12,255.2 L819.23,254.16 L819.4,252.66 L819.37,252.07 L819.6,251.3 L820.36,251.2 L821.3,250.4 L821.62,250.35 L821.58,247.76 L821.88,247.78 L822.12,246.83 L822.4,245.76 L822.45,245.25 L822.38,244.38 L822.6,243 L823.07,243.5 L824.3,243.8 L824.12,243.02 L824.72,242.05 L824.62,241.4 L824.52,239.85 L824.77,239.33 L824.66,237.97 L824.79,237.53 L824.67,236.29 L825.27,235.8 L825.02,235.13 L825.21,232.68 L825.4,233.41 L825.72,231.68 L825.75,230.76 L825.7,229.75 L825.86,229.52 L825.9,228.1 L826.14,227.68 L826.37,226.15 L826.39,226.84 L826.47,224.19 L826,223.72 L826.57,221.72 L826.73,222.25 L826.83,219.81 L826.97,219.42 L827.04,218.37 L827.1,218.1 L827.3,219.58 L827.38,219.65 L827.37,220.72 L827.88,222.73 L827.84,222.05 L827.64,224.62 L827.73,224.53 L827.8,225.62 L828,226.39 L827.94,226.92 L828.2,228.1 L828.55,227.09 L828.53,226.14 L828.67,225.22 L829.18,223.07 L829.2,224.35 L829.26,222.62 L829.6,221.4 L829.54,221.61 L830.13,223.27 L830.22,224.47 L830.03,226.33 L830.18,226.11 L830.31,226.53 L830.67,226.93 L830.86,229.11 L830.87,228.49 L830.75,229.51 L830.97,232.23 L831.2,232.2 L831.26,233.09 L831.52,234.18 L831.54,234.72 L831.87,235.79 L831.97,237.19 L832.32,237.72 L832.2,238.91 L832.22,240.12 L832.31,241.25 L832.38,241.13 L832.52,243.24 L832.86,244.14 L832.9,244.6 L833.22,245.15 L833.08,244.96 L833.32,246.88 L833.47,247.75 L833.69,249.3 L833.69,249.89 L834.06,251.04 L834.23,250.82 L834.44,252.72 L834.12,252.91 L834.5,254.6 L834.45,252.84 L835.01,252.51 L835.23,251.72 L835.42,251.2 L835.71,249.02 L836.06,249.25 L836.2,247.9 L836.62,246.05 L836.67,246.61 L836.31,244.65 L836.48,244.35 L836.72,243.86 L836.93,242.13 L837.13,241.78 L837.05,240.26 L837.33,240.24 L837.35,238.55 L837.2,236.26 L837.3,235.53 L837.95,235.75 L837.8,234.7 L837.93,233.25 L838.05,232.12 L838.57,232.39 L838.51,231.11 L838.81,231.31 L838.78,228.86 L839.18,229.08 L839.16,227.48 L839.5,226.4 L839.56,224.87 L840.11,225.12 L840.56,223.8 L840.71,222.48 L840.87,221.25 L841.2,220.6 L841.26,220.99 L841.39,222.45 L841.53,223.82 L841.61,224.56 L842.09,225.42 L842.31,225.75 L842.55,226.43 L842.46,227.86 L842.51,229.58 L842.8,229.7 L843,227.78 L843.49,228.46 L843.45,226.82 L844.52,225.46 L844.12,223.73 L844.8,223.9 L845.11,221.75 L845.56,221.27 L845.88,221.37 L846.5,219.8 L846.58,220.11 L846.82,221.15 L847.07,221.87 L847.26,224.32 L847.12,224.54 L847.15,225.11 L847.48,226.09 L847.65,227.57 L847.8,228.1 L847.68,230.2 L848.1,230.12 L848.5,231.1 L848.38,231.96 L848.76,233.49 L849.5,233.56 L849.4,234.7 L849.7,234.78 L850.44,237.21 L850.83,236.82 L851.1,238 L851.17,238.87 L851.25,239.56 L851.81,240.95 L851.61,241.76 L852.13,243.25 L852.62,243.75 L852.8,244.6 L852.96,244.86 L853.42,246.5 L854.06,247.99 L854.14,249.11 L854.4,249.6 L854.9,248.5 L854.88,248.56 L855.39,246.33 L855.7,245.5 L855.91,246.48 L856.21,246.49 L856.25,248.01 L856.45,249.36 L856.41,250.04 L856.61,251.89 L856.9,252.1 L857,250.51 L857.19,250.74 L857.36,249.32 L857.46,249.08 L857.79,247.04 L857.58,246.96 L857.63,245.59 L858.2,245.59 L857.84,244.09 L858.46,243.23 L858.57,241.42 L858.6,241.3 L858.64,240.43 L858.88,239.89 L858.81,239.55 L859.05,237.55 L859.27,236.59 L859.38,236.27 L859.28,234.64 L859.37,234.58 L859.37,232.6 L859.89,230.77 L859.7,231.4 L859.93,230.13 L860.37,228.98 L860.95,228.4 L861.09,227.69 L861.5,226.12 L861.9,225.6 L862.04,226.68 L862.31,226.94 L862.68,227.56 L862.64,229.18 L862.83,231.45 L863.14,231.45 L863.1,230.84 L863.5,233 L863.77,232.16 L863.99,230.87 L864.23,229.82 L864.3,229.01 L864.77,227.31 L865.04,227.54 L865.15,225.99 L865.2,225.6 L865.44,227.53 L865.53,227.33 L865.76,228.47 L866.06,229.7 L866.3,230.33 L866.49,231.29 L866.8,232.2 L866.86,231.19 L866.86,229.96 L867.14,228.65 L867.47,228.6 L867.36,227.39 L867.39,227.91 L867.6,226.31 L867.56,224.54 L867.69,223.59 L867.89,222.91 L867.63,220.86 L868.16,220.59 L868.26,219.94 L868.51,218.79 L868.29,217.9 L868.5,217.3 L868.82,217.19 L869.27,219.83 L869,220.03 L869.27,222.05 L869.86,222.3 L870.04,222.07 L870.1,223.9 L870.51,225.38 L870.74,226.72 L871.15,226.95 L870.94,227.45 L871.59,228.3 L871.8,229.7 L871.86,231.73 L872.52,230.75 L872.51,233.07 L872.82,233.75 L873.1,234.7 L873.28,233.63 L873.31,232.01 L873.4,231.76 L873.79,231.43 L873.86,230.97 L874.11,229.22 L874.17,227.39 L874.63,227.6 L874.58,225.81 L874.6,224.84 L874.88,225.64 L875.1,223.9 L875.01,224.65 L875.53,225.26 L875.52,226.7 L875.21,226.85 L875.72,228.64 L875.75,229.63 L875.77,230.4 L875.61,231.12 L876.16,231.97 L876.27,233.36 L876.26,233.81 L876.3,234.7 L876.44,233.46 L876.7,233.52 L876.93,233.78 L876.86,230.38 L877.12,229.59 L877.22,229.02 L877.1,228.07 L877.57,226.51 L877.5,226.53 L877.9,225.6 L878.33,226.45 L878.5,227.19 L878.55,228.11 L878.51,228.44 L878.71,230.25 L878.75,231.39 L878.96,232.68 L879.29,232.3 L878.69,233.12 L879.19,235.39 L879.6,235.5 L879.82,235.44 L880.03,233.17 L880.16,232.89 L880.59,230.94 L880.75,230.79 L880.9,229.7 L880.92,230.51 L881,231.4 L881.45,232.97 L881.75,233.74 L881.82,234.63 L881.85,235.19 L881.91,236.47 L882.41,236.37 L882.6,238 L882.9,238.83 L883.13,240.22 L883.69,240.89 L883.6,242.78 L883.92,244.2 L883.84,243.47 L884.2,244.6 L884.58,244.79 L885.25,246.42 L885.9,247.1 L885.94,247.01 L886.2,245.48 L886.29,245.28 L886.82,243.92 L886.56,242.45 L886.78,241.52 L887.21,241.1 L887.15,240.11 L887.58,239.04 L887.32,237.16 L887.65,236.86 L887.9,236.3 L888.38,236.87 L888.25,239.31 L888.63,238.71 L888.86,240.26 L889.13,241.34 L889.5,242 L889.8,242.39 L890,243.8 L890.1,242.56 L891.02,240.59 L891.27,241.24 L891.7,239.7 L892.56,240.6 L893.3,241.3 L893.73,240.3 L893.86,239.84 L894.48,239.15 L894.29,236.79 L894.54,236.69 L895,235.5 L896.03,235.23 L897.5,234.7 L897.83,235.76 L898.11,236.71 L898.3,237.78 L898.75,238.84 L899.1,239.7 L899.38,241.74 L899.7,241.77 L899.8,242.63 L899.96,243.48 L899.72,244.06 L899.99,245.36 L900.2,245.2 L900.32,247.55 L900.63,248.35 L900.78,249.1 L900.84,249.93 L901.1,250.4 L901.49,248.42 L901.4,248.48 L901.65,248.44 L901.64,247.45 L902.04,246.12 L902.25,244.97 L902.42,243.93 L902.52,243.03 L902.8,242.1 L903.01,241.25 L903.51,239.97 L903.86,239.21 L904.17,238.11 L904.66,237.67 L904.9,236.3 L905.1,237.91 L905.32,237.8 L905.63,239.29 L905.78,238.59 L906.01,240.8 L906.67,241.13 L906.6,243 L907.37,244.25 L907.55,244.17 L907.86,245.77 L908.5,247.61 L908.7,247.9 L908.6,248.26 L908.7,250.72 L909.13,249.59 L908.96,250.82 L909.22,252.98 L909.14,253.39 L909.13,254.1 L909.03,256.61 L909.17,256.14 L909.34,256.53 L909.21,258.69 L909.77,258.57 L909.64,260.02 L909.61,261.12 L909.58,261.62 L910,262.27 L910,264.52 L910.11,264.55 L909.9,265.3 L910.25,263.99 L910.51,263.14 L910.6,261.97 L910.74,261.34 L910.89,260.33 L911.21,259.23 L911.47,259.23 L911.6,257.9 L911.81,258.79 L912.38,260.35 L912.3,260.61 L912.26,261.58 L912.72,262.49 L912.97,263.69 L913.2,264.5 L913.39,265.15 L913.71,266.87 L914.3,266.67 L914.68,269.28 L914.9,269.5 L915.02,270.96 L915.34,270.85 L915.7,271.8 L915.65,272.57 L915.92,274.17 L916.2,275.3 L916.14,274.46 L916.82,274.2 L916.92,272.77 L917.02,271.17 L916.89,270.58 L916.97,269.19 L917.27,267.64 L917.46,268.81 L917.66,267.63 L917.7,266.2 L918.37,265.75 L918.62,263.81 L919.1,263.34 L919.3,262" fill="none" stroke="#2e303e" stroke-width="3" stroke-linejoin="round" stroke-linecap="round"/>
<path d="M110.3,597.5 L111.23,597.89 L112.32,596.77 L113.3,596.2 L113.95,595.66 L114.82,594.39 L115.7,593.7 L116.66,593.12 L117.77,593.12 L118.89,592.78 L119.9,592.9 L120.54,592.87 L121.82,593.64 L122.87,593.12 L123.83,593.62 L124.8,593.7 L125.45,592.58 L126.2,591.51 L126.65,590.78 L127.3,590.4 L127.89,589.47 L128.48,588.45 L129,587.6 L129.6,587.03 L130.19,588.9 L130.76,590.19 L131.5,590.4 L131.81,591.16 L132.38,592.12 L133.1,592.9 L134.17,591.74 L134.75,591.97 L135.6,591.2 L136.37,590.95 L137.5,590.25 L138.4,590.4 L138.85,588.79 L139.28,588.1 L139.89,587.5 L140.09,587.43 L140.6,586.3 L141.2,584.96 L141.88,584.98 L142.79,584.48 L143.4,583.8 L143.62,584.7 L143.92,585.96 L144.2,586.96 L144.49,588.19 L144.81,588.21 L145.1,589.6 L146.04,589.73 L147.2,590.4 L147.89,591.13 L148.43,591.24 L149.05,592.78 L149.7,593.7 L150.8,594.34 L152.2,594.5 L152.99,594.07 L153.81,593.25 L154.61,592.46 L155.5,592 L156.81,591.97 L157.78,592.07 L158.8,591.6 L159.47,591.09 L160.48,590.44 L161,589.6 L161.26,588.19 L161.38,588.08 L161.67,587.08 L161.84,586.67 L161.92,585.55 L162.08,584.33 L162.19,583.22 L162.57,582.44 L162.6,581.3 L162.86,580.28 L163.08,579.61 L163.35,578.78 L163.46,577.1 L163.88,576.83 L164.08,576.02 L164.3,574.7 L165.13,574.31 L166.3,573.8 L167,575.11 L167.78,575.82 L168.7,576.3 L169.21,576.89 L169.62,577.82 L170.27,579.13 L170.66,579.79 L171.2,580.5 L171.97,580.9 L172.84,581.71 L173.65,582.86 L174.5,583.3 L175.43,582.45 L176.52,582.61 L177.5,581.6 L178.03,582.43 L178.51,583.3 L179.08,584.26 L179.5,584.6 L179.82,584.57 L180.03,587.57 L180.61,587.54 L180.97,588.46 L181.03,588.99 L181.5,590.4 L182.47,590.73 L183.6,591.2 L184.49,591.25 L185.27,592.16 L186.1,592.5 L187.38,592.71 L188.6,593.2 L189.36,593.89 L190.31,594.85 L191.1,595.4 L192.01,595.03 L192.75,594.21 L193.6,594.2 L194.57,593.58 L195.49,593.51 L196.1,592.9 L196.89,592.62 L197.82,590.85 L198.6,590.4 L199.38,590.83 L200.26,591.09 L201,592 L201.88,592.63 L202.57,593.24 L203.5,593.7 L204.3,592.52 L205.11,592.68 L206,592.5 L207.24,593.19 L208.5,593.2 L209.35,593.33 L210.22,592.64 L211,592 L211.53,593.12 L212.34,594.05 L213,594.5 L213.5,593.19 L214,592.69 L214.3,591.6 L215.59,591.86 L216.8,591.6 L217.91,590.63 L218.75,591.32 L219.6,590.4 L220.59,591.09 L221.41,591.16 L222.2,592 L222.82,592.56 L223.69,593.23 L224.47,594.25 L225.1,594.2 L225.72,594.14 L226.73,595.17 L227.42,595.37 L228.4,596.2 L229.38,596.23 L230.69,596.16 L231.7,596.5 L231.97,595.7 L232.38,594.34 L232.7,594.46 L233.02,593.57 L233.52,592.01 L233.8,591.2 L234.74,590.83 L235.74,590.53 L236.6,590.9 L237.16,590.56 L237.81,589.47 L238.76,587.89 L239.1,587.9 L239.94,587.37 L240.62,586.54 L241.16,586.48 L242.1,584.9 L242.72,585.52 L243.51,586.29 L244.1,587.1 L244.59,587.67 L245.4,588.35 L246.06,589.91 L246.6,590.4 L247.8,591.36 L249.1,591.2 L250.42,591.75 L251.6,591.6 L252.32,592.24 L253.13,593.31 L254,593.7 L254.73,593.03 L255.66,593.18 L256.5,592 L257.72,591.62 L259,591.6 L259.86,590.97 L260.58,589.9 L261.66,590.13 L262.4,589.4 L263.04,588.22 L263.41,587.55 L264.16,586.82 L264.9,586.1 L265.71,586.97 L266.41,587.22 L267.4,587.8 L268.45,587.45 L269.9,587 L270.88,586.34 L271.66,585.11 L272.4,584.8 L273.58,585.79 L274.8,585.8 L276.06,586.19 L277.3,585.8 L277.92,586.19 L278.81,586.56 L279.8,587.5 L281.08,588.48 L282.3,587.8 L283.41,587.59 L284.8,587.5 L285.08,587.16 L285.71,586.14 L285.93,584.7 L286.26,583.72 L286.8,582.8 L287.21,582.08 L287.37,581.23 L287.52,579.73 L287.67,578.67 L288.21,578.34 L288.18,577.17 L288.4,576.2 L289.15,574.97 L289.72,574.75 L290.6,574.5 L291.11,573.06 L291.67,572.52 L292.1,571.66 L292.68,571.33 L293.1,569.9 L293.79,571.17 L294.06,571.98 L294.7,572.9 L294.82,573.59 L295.22,574.96 L295.64,575.98 L295.85,576.48 L296.13,578.18 L296.4,578.7 L296.78,580.05 L297.18,580.42 L297.67,581.11 L298,582.8 L298.77,581.87 L299.26,580.87 L299.85,580.67 L300.5,579.8 L301.25,580.4 L302.02,580.35 L303,581.2 L303.75,581.53 L304.63,582.35 L305.5,582.8 L306.67,582.42 L308,582.5 L308.79,582.5 L309.53,583.98 L310.5,584.5 L311.37,585.24 L312.12,585.92 L312.9,587 L314.01,587.65 L314.6,588.6 L315.14,588.26 L315.5,586.69 L315.89,586.04 L316.28,585.06 L316.71,584.16 L317.1,583.6 L317.79,585.06 L318.82,584.8 L319.6,586.1 L320.36,586.95 L321.25,587.44 L322,587.8 L322.57,587.17 L322.92,585.92 L323.2,585.4 L323.7,584.5 L324.19,583.85 L325.06,582.32 L325.76,581.63 L326.2,581.2 L326.54,580.72 L326.76,579.19 L327.23,578.62 L327.8,577.8 L327.9,577.38 L328.07,575.86 L328.78,574.73 L328.83,573.72 L329.2,572.9 L329.64,573.55 L329.97,574.87 L330.43,574.64 L330.8,576.2 L331.71,575.71 L332.15,574.59 L332.8,573.7 L334.13,573.1 L335.3,572.9 L336.03,572.7 L336.85,571.26 L337.8,570.4 L338.28,569.33 L338.71,568.93 L339.45,567.83 L339.87,567.3 L340.3,566.3 L341.11,565.61 L342.02,564.78 L342.8,563.8 L343.71,564.33 L344.5,564.87 L345.2,565.4 L346.24,564.71 L347.07,563.76 L348.1,563.3 L348.75,563.83 L349.17,565.38 L349.59,566.37 L350.2,567.1 L350.57,567.96 L351.02,568.08 L351.63,569.26 L351.9,570.4 L353.03,570.53 L354.3,571.2 L355.13,572.12 L355.99,571.85 L356.8,572.9 L357.83,573.28 L358.5,574.2 L358.82,572.87 L359.23,571.32 L359.69,572.02 L360.1,570.4 L360.98,569.2 L361.8,568.7 L363.04,569.04 L364.3,569.6 L364.65,569.59 L364.74,568.37 L364.49,566.57 L364.88,566.26 L364.95,565.11 L365.16,564.46 L365.29,563.39 L365.33,562.33 L365.47,562 L365.7,561.31 L365.89,559.72 L365.9,558.8 L366.28,557.8 L366.7,557.04 L367.32,556.58 L367.39,555.71 L367.9,554.7 L368.56,553.95 L369.6,553.8 L370.04,554.89 L370.34,555.58 L370.7,556.49 L371.02,557.36 L371.45,557.61 L371.7,558.8 L372.36,558.71 L373.24,557.58 L374.2,557.1 L375.42,556.88 L376.7,556.3 L377.65,555.98 L378.31,554.47 L379.2,553.8 L379.93,552.76 L380.58,551.8 L381.2,551.3 L381.75,551.63 L381.94,553.14 L382.5,553.8 L382.91,552.7 L382.99,552.26 L383.86,551.41 L383.95,550.36 L384.5,549.7 L385.23,549.57 L385.97,548.63 L386.6,548 L387.78,547.41 L389.1,547.7 L389.54,548.23 L390.12,549.45 L390.8,550.5 L391.69,551.91 L392.29,552.46 L393.3,553 L394.12,553.49 L395.01,554.19 L395.8,554.7 L396.9,554.81 L398.2,555.5 L398.87,555.01 L399.02,554.59 L399.49,552.74 L399.9,552.2 L400.66,551.43 L400.95,550.25 L401.6,549.4 L402.32,550.32 L403.2,550.5 L404.09,549.82 L404.75,549.7 L405.7,549.4 L406.9,548.8 L408.2,548.4 L408.92,547.72 L409.8,547.2 L410.66,546.96 L411.6,546.3 L412.05,545.08 L412.36,543.97 L412.59,543.51 L412.8,542.37 L413.3,541.3 L413.59,540.34 L414.13,538.89 L414.51,537.89 L414.9,537.1 L416.26,537.24 L417.4,537.1 L418.21,538.07 L418.76,538.5 L419.5,539.6 L419.78,538.93 L419.75,537.96 L419.86,536.52 L420.01,536.4 L420.34,535.02 L420.35,534.35 L420.6,534.01 L420.82,532.5 L420.96,531.39 L420.95,530.55 L421.2,529.7 L422.24,529.76 L423.2,530.5 L424.02,530 L424.84,529.27 L425.7,528.9 L427.07,528.73 L428.2,528 L429.43,528.11 L430.6,528.4 L431.33,527.44 L432.2,527.55 L432.93,527.74 L434,527.2 L434.47,528.4 L434.75,530.03 L435.36,530.43 L435.6,531.3 L435.93,532.6 L436.33,533.12 L436.95,534.25 L437.3,535.2 L438.46,535.78 L439.61,535.71 L440.6,535.5 L441.77,534.94 L442.78,535.31 L443.9,534.7 L444.33,533.53 L444.81,533.09 L445.11,531.57 L445.7,532.08 L445.95,530.48 L446.4,529.7 L447.55,529.46 L448.9,529.4 L450.1,529.79 L451.3,530.5 L452.13,530.48 L452.83,531.39 L453.8,531.7 L454.89,531.79 L456.3,532.2 L456.61,533.18 L456.87,533.95 L457.22,535.29 L457.4,535.6 L457.52,536.53 L458,538 L458.33,537.42 L458.58,536.57 L458.77,535.01 L459.14,534.06 L459.29,532.48 L459.58,532.18 L459.68,531.86 L460,530.5 L461.16,530.18 L462.1,528.9 L463.54,527.89 L464.6,528 L465.71,527.18 L467.1,527.2 L467.86,526.96 L468.76,526.14 L469.6,525.5 L470.57,524.44 L471.21,524.62 L472,523.4 L473.1,523.35 L474.2,522.2 L474.83,521.36 L475.5,519.87 L476.2,519.4 L476.91,519.73 L477.47,520.79 L478.2,521.4 L478.64,522.68 L478.96,523.69 L479.32,523.74 L479.8,524.7 L479.94,525.69 L480.29,526.53 L480.2,527.71 L480.39,528.48 L480.55,529.14 L480.8,530.18 L480.89,531.42 L481.04,531.69 L481.16,532.82 L481.33,533.36 L481.5,534.7 L481.7,534.97 L481.71,536.78 L481.72,537.1 L481.74,538.79 L481.81,538.88 L481.99,539.37 L481.81,541.22 L482.14,542.23 L482.16,543.12 L482.17,544.34 L482.19,545.2 L482.25,545.38 L482.39,546.16 L482.45,547.19 L482.65,548.46 L482.48,549.88 L482.59,550.11 L482.86,550.86 L482.71,552.42 L482.8,552.9 L483.4,551.58 L484.3,551.24 L484.8,550.4 L486.05,550.35 L487,551.2 L488.6,550.4 L489.08,550.72 L489.44,551.63 L489.98,552.02 L490.25,553.69 L490.8,554.5 L491.19,554.58 L491.45,556.14 L491.99,557.14 L492.4,557.8 L492.66,556.42 L493.16,554.98 L493.4,555.2 L493.64,553.44 L494.1,552.9 L494.33,551.79 L494.65,551 L495.18,550.21 L495.29,548.69 L495.7,547.9 L496.1,545.86 L496.4,546.03 L496.83,545.29 L497.39,543.48 L497.7,542.9 L498.33,543.91 L499.4,544.6 L500.26,545.2 L501.4,546.3 L502.12,545.55 L502.81,544.8 L503.5,544.3 L504.3,544.98 L505.06,544.58 L506,545.4 L506.8,546.51 L507.29,546.98 L507.81,547.59 L508.5,548.7 L509.28,549.86 L510.18,550.42 L511,551.2 L512.27,551.8 L513.5,551.6 L513.87,550.65 L514.41,549.56 L514.53,549.57 L515.1,547.9 L515.84,547.45 L516.8,546.3 L517.29,545.23 L517.81,544.44 L518.56,543.53 L518.9,542.9 L519.6,541.59 L520.45,541.02 L521.2,540.5 L522.3,539.59 L523.4,539.6 L524.17,540.47 L524.53,541.49 L525.1,542.1 L526.09,541.43 L526.63,540.66 L527.5,540 L528.29,539.38 L529.06,539.5 L530,538.8 L530.73,539.43 L531.53,540.14 L532.2,541.3 L532.75,542.06 L533.35,543.27 L533.61,544.6 L534.2,544.9 L535.28,544.69 L536.6,545.4 L537.28,546.39 L537.84,547.04 L538.57,548.4 L539.1,548.7 L539.5,549.61 L539.9,549.85 L540.13,551.94 L540.59,551.91 L540.8,552.9 L541.31,553.47 L541.78,554.61 L542.1,555.39 L542.8,555.9 L543.88,554.88 L544.82,555.75 L545.8,555.4 L546.12,554.26 L546.32,553.55 L546.68,552.49 L547.12,552.13 L547.4,550.4 L548.01,549.67 L548.5,549.08 L548.92,547.7 L549.4,547.1 L549.58,546.5 L549.65,545.32 L550.01,544.44 L549.88,543.05 L550.01,542.14 L550.52,542.09 L550.49,540.91 L550.75,540.31 L550.78,538.13 L550.9,538.86 L551.1,537.1 L552.09,537.1 L553.2,537.6 L553.99,538.81 L554.99,539.08 L555.7,539.6 L556.33,538.84 L556.82,537.59 L557.44,537.5 L558.2,536.3 L559.03,537.24 L559.58,537.96 L560.3,538 L560.71,538.76 L561.16,540.55 L561.49,541.32 L561.9,542.2 L562.25,543.35 L563.16,543.44 L563.62,544.84 L564.1,545.5 L565.26,545.24 L566.6,546.3 L567.56,546.72 L568.48,547.85 L569.5,548 L569.83,547.05 L570.34,545.92 L570.8,545.15 L571.18,543.57 L571.5,543 L572.04,542.33 L572.68,541.8 L573.43,540.4 L574,539.7 L575.06,539.76 L576.24,539.35 L577.3,538.4 L578.48,538.17 L579.43,538.49 L580.6,538.5 L581.98,538.9 L583.1,539.4 L583.41,540.41 L583.62,541.45 L584.24,542.28 L584.32,542.53 L584.75,543.52 L585.1,544.7 L585.85,545.04 L586.63,545.56 L587.4,546.7 L588.1,547.1 L589.19,547.2 L590.03,547.17 L591.1,548 L592,548.81 L592.7,549.54 L593.4,550.5 L594.13,551.89 L594.37,552.75 L595.03,553.07 L595.5,553.8 L595.99,555.01 L596.39,555.72 L596.9,556.27 L597.2,557.83 L597.7,558.7 L598.37,560.06 L599.1,559.95 L599.7,560.9 L600.27,560.31 L600.78,559.37 L601.33,558.7 L601.7,557.9 L601.97,557.18 L602.46,555.89 L602.6,555.73 L603.09,554.78 L603.37,553.83 L603.8,552.9 L604.57,551.72 L605.42,551.02 L606.3,550.5 L607.56,550.54 L608.8,550.5 L609.55,550.71 L610.5,549.6 L610.93,550.29 L611.23,551.5 L611.79,551.63 L612.24,553.09 L612.6,553.8 L613.44,554.83 L614.6,555.4 L615.59,555.37 L616.6,554.6 L617.26,556.16 L617.99,555.53 L618.7,557.1 L619.47,558 L620.11,558.84 L620.9,559.6 L621.15,560 L621.37,561.43 L621.67,562.52 L621.88,562.78 L622.21,564.15 L622.5,565.4 L622.9,566.94 L623.08,567.55 L623.65,568.76 L623.99,569.51 L624.5,570.3 L625.43,570.74 L626.2,571.2 L626.62,570.35 L626.93,569.26 L627.38,568.78 L627.73,567.89 L628.2,567 L628.7,566.05 L629,565.85 L629.47,564.32 L629.91,564.04 L630.3,562.9 L630.62,564.25 L630.79,564.53 L631.35,566.13 L631.7,566.6 L632,567.8 L633.16,567.26 L634.1,567.5 L634.72,567.11 L635.25,565.85 L635.76,565.54 L636.1,564.5 L636.61,563.11 L636.91,563.32 L637.36,562.38 L637.74,561.74 L638.06,560.44 L638.6,559.6 L639.07,559.49 L639.61,557.6 L640.26,557.16 L640.8,556.3 L641.96,556 L642.8,555.4 L643.05,554.93 L643.58,553.83 L644.01,553.21 L644.42,552.6 L644.7,551.99 L645.2,550.5 L646.03,550.07 L646.53,548.59 L647.4,548 L648.44,548.58 L649.4,549.6 L649.88,550.92 L650.52,551.01 L651.29,552.13 L651.9,552.6 L652.5,551.67 L653.1,550.81 L653.42,549.66 L654,548.8 L655,547.96 L656,547.1 L656.39,546.52 L656.78,544.88 L657.07,543.77 L657.7,543 L658.39,543.88 L658.89,544.73 L659.6,545.5 L660.41,545.25 L661.13,544.46 L661.8,543.8 L662.94,543.52 L664,543.3 L664.83,544.19 L665.9,544.7 L667.08,544.33 L668.4,544.3 L669.39,544.19 L670.9,543.8 L671.57,542.97 L672.28,541.88 L672.9,541 L673.66,541.16 L674.3,542.08 L675.1,543 L675.6,544.31 L676.16,545.04 L676.7,545.5 L676.8,546.32 L676.93,546.85 L677.25,548.32 L677.32,549.45 L677.29,549.8 L677.56,551.17 L677.74,551.6 L677.8,552.66 L677.9,553.8 L678.3,554.67 L678.66,556.15 L678.89,556.57 L679.2,557.9 L679.52,557.68 L679.85,556.07 L680.34,554.73 L680.41,554.44 L680.8,552.9 L682.24,553.53 L683.3,553.8 L684.56,554.37 L685.8,554.6 L686.72,555.38 L687.38,555.06 L688.3,555.9 L688.79,557.28 L689.34,557.54 L689.82,559.04 L690.5,559.2 L690.73,558.37 L690.91,557.3 L691.28,556.23 L691.38,555.69 L691.74,554.74 L692.1,553.8 L692.99,553.62 L693.94,553.43 L694.9,553.3 L695.75,552.86 L696.6,552.1 L696.51,550.61 L696.95,549.79 L696.98,548.79 L697.2,549.09 L697.44,547.48 L697.51,546.86 L697.51,545.77 L697.94,544.93 L698.13,543.31 L698.2,543 L698.06,542.75 L698.59,541.11 L698.49,540.51 L698.64,539.15 L698.71,538.69 L698.93,537.03 L699.21,536.36 L699.19,535.36 L699.13,534.73 L699.4,533.9 L699.29,532.81 L699.5,532.21 L699.54,530.74 L699.85,530.74 L699.88,529 L700.06,528.65 L699.88,527.53 L700.19,527.2 L700.17,526.19 L700.4,524.8 L700.71,526.02 L700.61,527.08 L701.07,527.54 L701.16,528.28 L701.1,529.45 L701.54,530.79 L701.6,531.4 L703.2,530.6 L704.06,530.09 L704.66,529.48 L705.7,528.4 L706.71,527.62 L707.48,527.04 L708.2,526.1 L708.39,526.95 L708.57,527.56 L708.63,529 L708.83,529.83 L709.06,530.84 L708.91,532.05 L709.41,532.72 L709.43,533.16 L709.6,534.5 L710.2,536.16 L710.96,536.51 L711.6,537 L711.99,537.32 L712.4,538 L712.92,539.77 L713.21,540.37 L713.81,541.31 L714.1,541.9 L714.56,543 L714.86,543.72 L715.33,544.08 L715.44,544.85 L715.81,545.8 L716.22,547.34 L716.6,547.7 L717.77,548.06 L719,548.6 L720.27,548.87 L721.22,549.66 L722.4,549.4 L723.26,549.17 L724.14,547.84 L724.8,546.9 L725.67,546.11 L726.35,545.29 L727.3,544.4 L728.03,543.43 L728.91,543.03 L729.8,542.8 L730.27,541.78 L730.6,541.15 L730.78,540.43 L731.07,539.39 L731.63,538.06 L731.95,537.81 L732.3,537 L732.52,536.37 L732.8,535.01 L733.46,533.79 L733.63,532.59 L734.31,532.05 L734.5,531.2 L734.58,530.55 L734.71,529.59 L734.74,528.32 L734.89,527.71 L734.94,526.91 L735.05,526.02 L735.3,525.24 L735.54,523.67 L735.33,523.14 L735.51,521.67 L735.6,521.2 L735.89,520.27 L736.28,518.88 L736.63,517.92 L737.11,517.02 L737.64,515.48 L737.8,515.4 L738.46,514.3 L739.24,513.07 L739.8,512.6 L740.96,512.29 L742.2,512.1 L743.09,511.07 L743.8,510.86 L744.7,510 L745.44,510.15 L746.38,509.61 L747.2,508.8 L748,507.75 L748.82,507.85 L749.7,507.1 L750.69,507.42 L751.63,507.84 L752.7,508 L752.96,507.67 L753.13,506.59 L753.28,505.19 L753.77,504.18 L753.77,503.31 L754.13,502.06 L754.3,501.3 L755.51,500.43 L756.3,499.7 L756.58,498.81 L757.04,498.01 L757.07,496.27 L757.23,495.59 L757.71,494.8 L758,493.9 L759.06,493.79 L760,493.1 L760.93,493.76 L762.03,493.81 L762.6,494.4 L763.5,495.28 L764.52,494.82 L765.4,495.5 L766.15,496.57 L766.9,497.22 L767.4,497.82 L768.2,498.4 L768.45,497.33 L769.02,496.92 L769.74,495.76 L769.96,494.52 L770.4,493.9 L770.71,492.72 L771.39,492.44 L771.98,491.18 L772.47,490.23 L772.9,489.4 L774.08,489.58 L775.4,488.9 L775.54,488.13 L775.9,487.42 L775.93,485.79 L775.96,485.25 L776,484.42 L776.13,482.94 L776.41,482.14 L776.32,481.68 L776.5,480.6 L777.05,479.65 L777.4,478.47 L777.73,478.19 L778.22,477.68 L778.7,476.5 L779.07,475.89 L779.39,474.35 L779.65,473.94 L780.09,472.35 L780.51,471.86 L780.8,470.7 L780.96,469.42 L781.35,468.78 L781.5,467.97 L781.83,466.75 L782.01,466.53 L782.46,464.72 L782.8,464.1 L783.48,462.67 L784.09,462.18 L785.11,461.45 L785.7,460.8 L787.09,460.84 L788.2,460.8 L789.46,461.38 L790.7,461.1 L790.75,460.02 L791.29,458.46 L791.57,458.22 L791.8,456.93 L792.2,455.89 L792.4,455.3 L792.99,454.49 L794.12,453.43 L794.8,452.8 L795.93,452.04 L797.3,452 L798.34,451.26 L799.5,451.2 L800.03,452.03 L800.6,452.8 L800.88,451.85 L801.42,451.02 L801.65,449.49 L801.98,448.9 L802.3,447.8 L803.6,447.63 L804.8,447.5 L805.4,448.36 L806.21,449.1 L806.8,450.3 L806.8,449.18 L807.12,448.25 L807.46,447.76 L807.67,446.15 L807.89,445.7 L807.98,444.46 L808.1,443.7 L809.26,444.8 L810.1,445.4 L810.31,443.99 L810.51,443.51 L810.72,442.2 L811.16,441.56 L811.29,440.58 L811.4,439.6 L811.92,438.6 L812.41,437.94 L812.9,436.63 L813.4,436.3 L813.59,438.09 L814.02,437.66 L814.01,439.16 L814.13,439.38 L814.34,440.72 L814.61,441.36 L814.85,442.15 L814.88,443.49 L815.15,443.87 L815.16,445.42 L815.5,446.2 L816.21,446.2 L817.09,444.55 L817.7,444.5 L817.74,443.23 L817.87,442.19 L817.99,441.67 L818.13,440.94 L818.13,439.9 L818.49,438.84 L818.59,438.32 L818.8,437.24 L818.9,436.3 L819.48,435.07 L819.89,434.54 L820.6,433.09 L821,432.6 L822.02,432.71 L823,432.1 L823.48,431.49 L823.72,430.11 L824.05,429.38 L824.28,428.18 L824.69,427.52 L825,426.3 L825.21,425.86 L825.2,424.35 L825.51,423.29 L825.57,422.29 L825.72,420.37 L826.13,420.41 L826.19,418.99 L826.3,418.4 L828,418 L828.74,418.4 L829.3,419.7 L829.7,418.61 L830.03,417.81 L830.5,416.7 L830.73,417.46 L830.68,418.21 L830.98,419.95 L830.97,420.41 L831.37,421.73 L831.29,423.19 L831.45,423.5 L831.6,424.7 L832.17,424.82 L832.8,426 L833.28,426.59 L833.8,427.6 L834.44,426.41 L835.11,426.26 L835.9,424.7 L836.22,423.72 L836.5,423.46 L836.79,421.73 L837.1,421.53 L837.56,420.23 L837.74,418.77 L838.04,417.85 L838.2,417.2 L838.63,416.41 L838.96,415.36 L839.17,413.3 L839.68,414.05 L840.09,412.32 L840.4,411.4 L841.25,411.05 L842.13,410.42 L842.9,409.4 L843.75,409.6 L844.47,410.55 L845.4,410.6 L846.52,411.02 L847.8,411.4 L848.89,411.7 L850.3,412.2 L850.73,411.41 L851.26,410.93 L851.91,410.43 L852.51,408.66 L852.8,408.1 L853.67,407.7 L854.46,406.79 L855.3,406.8 L855.79,405.87 L856.69,405.02 L857.17,404.51 L857.8,404 L858.28,402.75 L858.85,401.87 L859.4,401.1 L860.33,401.7 L861.1,402.3 L861.58,401.44 L862.15,400.34 L862.56,399.95 L863.1,399 L863.43,397.4 L863.94,396.33 L864.27,396.09 L864.58,395.04 L864.93,394.71 L865.2,393.2 L865.38,391.98 L865.89,391.3 L866.01,390.24 L866.53,389.58 L866.9,389 L867.44,389.15 L867.9,390.87 L868.6,391.5 L869.11,390.53 L869.68,389.6 L870.2,388.6 L871.09,387.21 L871.9,386.6 L872.24,386.24 L872.49,384.06 L872.82,384.18 L873.03,382.59 L873.5,381.6 L873.77,380.11 L874.01,379.86 L874.4,378.9 L875.11,378.47 L875.89,377.13 L876.7,377.4 L878.02,377.55 L878.9,377.4 L879.32,375.89 L879.73,375.57 L880.24,374.55 L880.5,373.6 L880.92,372.95 L881.49,371.26 L882,370.6 L882.3,369.13 L882.53,368.98 L882.81,367.69 L883.24,366.92 L883.5,366 L883.81,364.67 L883.94,363.74 L884.06,363.24 L884.28,362.09 L884.6,361.61 L884.91,359.82 L885.25,359.26 L885.3,358.5 L886.02,357.64 L886.6,356.54 L887.3,356.2 L888.8,355.5 L889.63,356.5 L890.3,357.7 L890.61,357.23 L890.83,355.84 L891.22,354.78 L891.74,354.49 L891.8,353.16 L892.2,352.4 L893.22,351.68 L894.1,351.7 L895.26,352.49 L896.3,352.4 L896.67,352.01 L897.06,350.38 L897.39,349.18 L897.8,348.7 L899.4,347.9 L899.44,346.67 L899.95,345.88 L900.13,345.32 L900.31,344.26 L900.57,343.29 L900.9,341.9 L901,340.94 L901.35,340.69 L901.63,339.61 L901.97,338.43 L902.19,337.05 L902.4,336.6 L902.67,337.38 L903.13,338.8 L903.53,339.8 L903.9,340.3 L904.33,339.41 L904.9,338.8 L904.92,337.83 L905.02,337.2 L905.13,336.4 L905.19,334.94 L905.14,334.81 L905.56,333.34 L905.72,332.5 L905.45,331.67 L905.61,330.25 L905.78,329.17 L905.9,328.3 L906.11,327.7 L906.06,326.38 L906.28,325.56 L906.49,324.34 L906.44,324 L906.53,323.03 L906.61,321.47 L906.9,320.7 L907.37,319.9 L907.43,318.46 L907.8,317.62 L907.94,317.45 L908.4,316.2 L909.26,317.18 L909.72,317.54 L910.4,318.4 L910.39,319.64 L910.84,320.18 L911.07,321.55 L911.18,322.27 L911.4,323.7 L911.43,324.32 L911.88,325.74 L911.9,326.1 L912.16,327.55 L912.02,328.01 L912.25,329.33 L912.5,330.1 L913.46,328.89 L914.5,328.6 L915.61,328.01 L916.7,327.5 L917.38,327.15 L918.5,327 L919.34,325.32 L920.1,325.2" fill="none" stroke="#c83f49" stroke-width="2.15" stroke-linejoin="round" stroke-linecap="round"/>
<g fill="#2e303e">
<circle cx="161.3" cy="191.5" r="1.8"/>
<circle cx="307.1" cy="241.3" r="1.8"/>
<circle cx="411.5" cy="100.6" r="1.8"/>
<circle cx="479.1" cy="8.3" r="1.8"/>
<circle cx="530.3" cy="3.3" r="1.8"/>
<circle cx="608.7" cy="139.4" r="1.8"/>
<circle cx="698.5" cy="56.6" r="1.8"/>
<circle cx="782.6" cy="181.2" r="1.8"/>
<circle cx="919.5" cy="262" r="1.8"/>
</g><g fill="#c83f49">
<circle cx="293.1" cy="569.9" r="1.5"/>
<circle cx="476.2" cy="519.4" r="1.5"/>
<circle cx="626.2" cy="571.2" r="1.5"/>
<circle cx="768.2" cy="498.4" r="1.5"/>
<circle cx="920.1" cy="325.2" r="1.5"/>
</g>
<g font-size="10.5" fill="#5a5a5e" text-anchor="middle">
<text x="161.8" y="173.5" textLength="35.6" lengthAdjust="spacingAndGlyphs">$113.20</text>
<text x="161.3" y="186.4" textLength="43" lengthAdjust="spacingAndGlyphs">9/7/2017</text>
<text x="307.1" y="252.3" textLength="34.8" lengthAdjust="spacingAndGlyphs">$101.10</text>
<text x="307.6" y="264.7" textLength="47.2" lengthAdjust="spacingAndGlyphs">11/2/2018</text>
<text x="411.2" y="82.5" textLength="37.3" lengthAdjust="spacingAndGlyphs">$136.02</text>
<text x="411.2" y="95.0" textLength="49" lengthAdjust="spacingAndGlyphs">8/28/2019</text>
<text x="447.6" y="6.1" textLength="37.3" lengthAdjust="spacingAndGlyphs">$159.49</text>
<text x="448.3" y="19.0" textLength="46.1" lengthAdjust="spacingAndGlyphs">3/9/2020</text>
<text x="557.9" y="11.5" textLength="46.6" lengthAdjust="spacingAndGlyphs">8/4/2020</text>
<text x="698.5" y="37.7" textLength="37" lengthAdjust="spacingAndGlyphs">$147.47</text>
<text x="698.5" y="50.1" textLength="48" lengthAdjust="spacingAndGlyphs">12/3/2021</text>
<text x="608.5" y="151.5" textLength="37" lengthAdjust="spacingAndGlyphs">$126.45</text>
<text x="608.5" y="164.5" textLength="49" lengthAdjust="spacingAndGlyphs">3/18/2021</text>
<text x="782.9" y="161.5" textLength="33.5" lengthAdjust="spacingAndGlyphs">$116.15</text>
<text x="782.9" y="174.0" textLength="44.7" lengthAdjust="spacingAndGlyphs">8/1/2022</text>
<text x="938.8" y="284.8" textLength="32.6" lengthAdjust="spacingAndGlyphs">$94.85</text>
<text x="938.2" y="297.5" textLength="43.8" lengthAdjust="spacingAndGlyphs">9/1/2023</text>
</g>
<g font-size="10.5" fill="#db788b" text-anchor="middle">
<text x="292.6" y="551.2" textLength="49" lengthAdjust="spacingAndGlyphs">9/21/2018</text>
<text x="292.2" y="563.1" textLength="33" lengthAdjust="spacingAndGlyphs">$4.25B</text>
<text x="476.2" y="501.4" textLength="46.4" lengthAdjust="spacingAndGlyphs">3/3/2020</text>
<text x="476.2" y="513.3" textLength="36.4" lengthAdjust="spacingAndGlyphs">$11.99B</text>
<text x="624.9" y="582.9" textLength="43.9" lengthAdjust="spacingAndGlyphs">5/6/2021</text>
<text x="624.9" y="594.5" textLength="33.5" lengthAdjust="spacingAndGlyphs">$4.20B</text>
<text x="801" y="509.0" textLength="51.3" lengthAdjust="spacingAndGlyphs">6/22/2022</text>
<text x="800.7" y="521.1" textLength="37" lengthAdjust="spacingAndGlyphs">$15.35B</text>
<text x="938.3" y="312.1" textLength="43.1" lengthAdjust="spacingAndGlyphs">9/1/2023</text>
<text x="938.6" y="323.5" textLength="37.7" lengthAdjust="spacingAndGlyphs">$42.01B</text>
</g>
</svg></body></html>
